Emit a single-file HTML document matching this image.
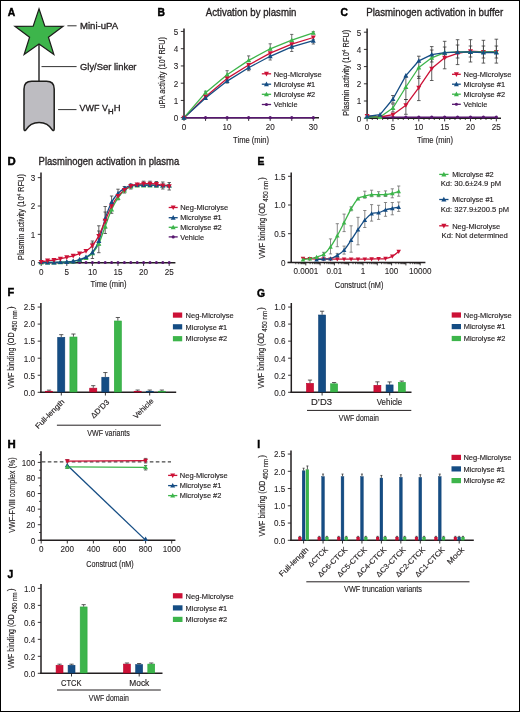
<!DOCTYPE html>
<html><head><meta charset="utf-8"><title>Figure</title>
<style>
html,body{margin:0;padding:0;background:#fff;}
svg{display:block;will-change:transform;}
text{font-family:"Liberation Sans", sans-serif;stroke:#231f20;stroke-width:0.15px;} .tk{stroke-width:0.1px;} .ti{stroke-width:0.32px;}
</style></head>
<body>
<svg width="520" height="712" viewBox="0 0 520 712" font-family='"Liberation Sans", sans-serif' fill="#231f20">
<rect x="0.5" y="0.5" width="519" height="711" fill="#fff" stroke="#000" stroke-width="1"/>
<text x="7.70" y="16.30" font-size="10.3" font-weight="bold" fill="#000" style="stroke:#000;stroke-width:0.45px">A</text>
<line x1="39.00" y1="44.00" x2="39.00" y2="81.50" stroke="#3a3a3a" stroke-width="1.6"/>
<polygon points="39.00,8.80 44.82,26.09 63.06,26.28 48.42,37.16 53.87,54.57 39.00,44.00 24.13,54.57 29.58,37.16 14.94,26.28 33.18,26.09" fill="#3db54b" stroke="#1d1d1b" stroke-width="1.2" stroke-linejoin="miter"/>
<path d="M24.0,89 Q24.0,81.3 31.7,81.3 L46.5,81.3 Q54.2,81.3 54.2,89 L54.2,128.6 Q54.2,131.3 52.5,130.1 A15.5,15.5 0 0 0 25.7,130.1 Q24.0,131.3 24.0,128.6 Z" fill="#bdbcc1" stroke="#1d1d1b" stroke-width="1.5" stroke-linejoin="round"/>
<line x1="67.40" y1="25.80" x2="76.60" y2="25.80" stroke="#333" stroke-width="1"/>
<line x1="41.50" y1="66.60" x2="76.60" y2="66.60" stroke="#333" stroke-width="1"/>
<line x1="58.10" y1="109.60" x2="76.50" y2="109.60" stroke="#333" stroke-width="1"/>
<text x="80.00" y="28.80" font-size="9.5" textLength="38.2" lengthAdjust="spacingAndGlyphs" class="ti">Mini-uPA</text>
<text x="80.00" y="70.10" font-size="9.5" textLength="56.5" lengthAdjust="spacingAndGlyphs" class="ti">Gly/Ser linker</text>
<text x="79.60" y="111.20" font-size="9.5" textLength="28.4" lengthAdjust="spacingAndGlyphs" class="ti">VWF V</text>
<text x="108.00" y="113.90" font-size="6.6" textLength="5.6" lengthAdjust="spacingAndGlyphs" class="ti">H</text>
<text x="113.80" y="111.20" font-size="9.5" class="ti">H</text>
<text x="157.60" y="16.20" font-size="10.3" font-weight="bold" fill="#000" style="stroke:#000;stroke-width:0.45px">B</text>
<text x="205.80" y="16.20" font-size="10.3" textLength="90.7" lengthAdjust="spacingAndGlyphs" class="ti">Activation by plasmin</text>
<line x1="184.00" y1="28.50" x2="184.00" y2="118.40" stroke="#231f20" stroke-width="1.5"/>
<line x1="180.80" y1="117.70" x2="184.00" y2="117.70" stroke="#231f20" stroke-width="0.9"/>
<text x="178.20" y="121.00" font-size="9.3" text-anchor="end" textLength="4.5" lengthAdjust="spacingAndGlyphs" class="tk">0</text>
<line x1="180.80" y1="100.45" x2="184.00" y2="100.45" stroke="#231f20" stroke-width="0.9"/>
<text x="178.20" y="103.75" font-size="9.3" text-anchor="end" textLength="4.5" lengthAdjust="spacingAndGlyphs" class="tk">1</text>
<line x1="180.80" y1="83.20" x2="184.00" y2="83.20" stroke="#231f20" stroke-width="0.9"/>
<text x="178.20" y="86.50" font-size="9.3" text-anchor="end" textLength="4.5" lengthAdjust="spacingAndGlyphs" class="tk">2</text>
<line x1="180.80" y1="65.95" x2="184.00" y2="65.95" stroke="#231f20" stroke-width="0.9"/>
<text x="178.20" y="69.25" font-size="9.3" text-anchor="end" textLength="4.5" lengthAdjust="spacingAndGlyphs" class="tk">3</text>
<line x1="180.80" y1="48.70" x2="184.00" y2="48.70" stroke="#231f20" stroke-width="0.9"/>
<text x="178.20" y="52.00" font-size="9.3" text-anchor="end" textLength="4.5" lengthAdjust="spacingAndGlyphs" class="tk">4</text>
<line x1="180.80" y1="31.45" x2="184.00" y2="31.45" stroke="#231f20" stroke-width="0.9"/>
<text x="178.20" y="34.75" font-size="9.3" text-anchor="end" textLength="4.5" lengthAdjust="spacingAndGlyphs" class="tk">5</text>
<line x1="183.30" y1="117.70" x2="319.00" y2="117.70" stroke="#231f20" stroke-width="1.5"/>
<line x1="184.00" y1="117.70" x2="184.00" y2="120.90" stroke="#231f20" stroke-width="0.9"/>
<text x="184.00" y="129.70" font-size="9.3" text-anchor="middle" textLength="4.5" lengthAdjust="spacingAndGlyphs" class="tk">0</text>
<line x1="205.55" y1="117.70" x2="205.55" y2="120.90" stroke="#231f20" stroke-width="0.9"/>
<line x1="227.10" y1="117.70" x2="227.10" y2="120.90" stroke="#231f20" stroke-width="0.9"/>
<text x="227.10" y="129.70" font-size="9.3" text-anchor="middle" textLength="9.01" lengthAdjust="spacingAndGlyphs" class="tk">10</text>
<line x1="248.65" y1="117.70" x2="248.65" y2="120.90" stroke="#231f20" stroke-width="0.9"/>
<line x1="270.20" y1="117.70" x2="270.20" y2="120.90" stroke="#231f20" stroke-width="0.9"/>
<text x="270.20" y="129.70" font-size="9.3" text-anchor="middle" textLength="9.01" lengthAdjust="spacingAndGlyphs" class="tk">20</text>
<line x1="291.75" y1="117.70" x2="291.75" y2="120.90" stroke="#231f20" stroke-width="0.9"/>
<line x1="313.30" y1="117.70" x2="313.30" y2="120.90" stroke="#231f20" stroke-width="0.9"/>
<text x="313.30" y="129.70" font-size="9.3" text-anchor="middle" textLength="9.01" lengthAdjust="spacingAndGlyphs" class="tk">30</text>
<text x="251.10" y="142.70" font-size="8.8" text-anchor="middle" textLength="36" lengthAdjust="spacingAndGlyphs">Time (min)</text>
<text transform="translate(165.00,72.80) rotate(-90)" x="0" y="0" text-anchor="middle" font-size="9" textLength="71.5" lengthAdjust="spacingAndGlyphs">uPA activity (10<tspan font-size="6" dy="-3">4</tspan><tspan dy="3"> RFU)</tspan></text>
<line x1="205.55" y1="91.20" x2="205.55" y2="93.70" stroke="#4a4a4a" stroke-width="0.8"/>
<line x1="203.95" y1="91.20" x2="207.15" y2="91.20" stroke="#4a4a4a" stroke-width="0.8"/>
<line x1="203.95" y1="93.70" x2="207.15" y2="93.70" stroke="#4a4a4a" stroke-width="0.8"/>
<line x1="205.55" y1="97.10" x2="205.55" y2="99.10" stroke="#4a4a4a" stroke-width="0.8"/>
<line x1="203.95" y1="97.10" x2="207.15" y2="97.10" stroke="#4a4a4a" stroke-width="0.8"/>
<line x1="203.95" y1="99.10" x2="207.15" y2="99.10" stroke="#4a4a4a" stroke-width="0.8"/>
<line x1="227.10" y1="70.70" x2="227.10" y2="75.70" stroke="#4a4a4a" stroke-width="0.8"/>
<line x1="225.50" y1="70.70" x2="228.70" y2="70.70" stroke="#4a4a4a" stroke-width="0.8"/>
<line x1="225.50" y1="75.70" x2="228.70" y2="75.70" stroke="#4a4a4a" stroke-width="0.8"/>
<line x1="227.10" y1="80.10" x2="227.10" y2="83.10" stroke="#4a4a4a" stroke-width="0.8"/>
<line x1="225.50" y1="80.10" x2="228.70" y2="80.10" stroke="#4a4a4a" stroke-width="0.8"/>
<line x1="225.50" y1="83.10" x2="228.70" y2="83.10" stroke="#4a4a4a" stroke-width="0.8"/>
<line x1="248.65" y1="55.90" x2="248.65" y2="61.40" stroke="#4a4a4a" stroke-width="0.8"/>
<line x1="247.05" y1="55.90" x2="250.25" y2="55.90" stroke="#4a4a4a" stroke-width="0.8"/>
<line x1="247.05" y1="61.40" x2="250.25" y2="61.40" stroke="#4a4a4a" stroke-width="0.8"/>
<line x1="248.65" y1="66.70" x2="248.65" y2="70.70" stroke="#4a4a4a" stroke-width="0.8"/>
<line x1="247.05" y1="66.70" x2="250.25" y2="66.70" stroke="#4a4a4a" stroke-width="0.8"/>
<line x1="247.05" y1="70.70" x2="250.25" y2="70.70" stroke="#4a4a4a" stroke-width="0.8"/>
<line x1="270.20" y1="43.80" x2="270.20" y2="49.80" stroke="#4a4a4a" stroke-width="0.8"/>
<line x1="268.60" y1="43.80" x2="271.80" y2="43.80" stroke="#4a4a4a" stroke-width="0.8"/>
<line x1="268.60" y1="49.80" x2="271.80" y2="49.80" stroke="#4a4a4a" stroke-width="0.8"/>
<line x1="270.20" y1="55.30" x2="270.20" y2="60.00" stroke="#4a4a4a" stroke-width="0.8"/>
<line x1="268.60" y1="55.30" x2="271.80" y2="55.30" stroke="#4a4a4a" stroke-width="0.8"/>
<line x1="268.60" y1="60.00" x2="271.80" y2="60.00" stroke="#4a4a4a" stroke-width="0.8"/>
<line x1="291.75" y1="34.40" x2="291.75" y2="41.20" stroke="#4a4a4a" stroke-width="0.8"/>
<line x1="290.15" y1="34.40" x2="293.35" y2="34.40" stroke="#4a4a4a" stroke-width="0.8"/>
<line x1="290.15" y1="41.20" x2="293.35" y2="41.20" stroke="#4a4a4a" stroke-width="0.8"/>
<line x1="291.75" y1="45.90" x2="291.75" y2="51.50" stroke="#4a4a4a" stroke-width="0.8"/>
<line x1="290.15" y1="45.90" x2="293.35" y2="45.90" stroke="#4a4a4a" stroke-width="0.8"/>
<line x1="290.15" y1="51.50" x2="293.35" y2="51.50" stroke="#4a4a4a" stroke-width="0.8"/>
<line x1="313.30" y1="31.70" x2="313.30" y2="33.90" stroke="#4a4a4a" stroke-width="0.8"/>
<line x1="311.70" y1="31.70" x2="314.90" y2="31.70" stroke="#4a4a4a" stroke-width="0.8"/>
<line x1="311.70" y1="33.90" x2="314.90" y2="33.90" stroke="#4a4a4a" stroke-width="0.8"/>
<line x1="313.30" y1="39.70" x2="313.30" y2="44.00" stroke="#4a4a4a" stroke-width="0.8"/>
<line x1="311.70" y1="39.70" x2="314.90" y2="39.70" stroke="#4a4a4a" stroke-width="0.8"/>
<line x1="311.70" y1="44.00" x2="314.90" y2="44.00" stroke="#4a4a4a" stroke-width="0.8"/>
<line x1="184.00" y1="117.70" x2="313.30" y2="117.70" stroke="#57176f" stroke-width="1.4"/>
<circle cx="184.00" cy="117.70" r="1.6" fill="#57176f"/>
<circle cx="205.55" cy="117.70" r="1.6" fill="#57176f"/>
<circle cx="227.10" cy="117.70" r="1.6" fill="#57176f"/>
<circle cx="248.65" cy="117.70" r="1.6" fill="#57176f"/>
<circle cx="270.20" cy="117.70" r="1.6" fill="#57176f"/>
<circle cx="291.75" cy="117.70" r="1.6" fill="#57176f"/>
<circle cx="313.30" cy="117.70" r="1.6" fill="#57176f"/>
<polyline points="184.00,117.70 205.55,96.70 227.10,78.40 248.65,65.00 270.20,53.10 291.75,44.20 313.30,37.50" fill="none" stroke="#cc1136" stroke-width="1.3" stroke-linejoin="round"/>
<polyline points="184.00,117.70 205.55,98.10 227.10,81.10 248.65,67.70 270.20,56.30 291.75,46.90 313.30,40.70" fill="none" stroke="#154d84" stroke-width="1.3" stroke-linejoin="round"/>
<polyline points="184.00,117.70 205.55,92.70 227.10,74.70 248.65,60.40 270.20,48.80 291.75,40.20 313.30,32.90" fill="none" stroke="#3db54b" stroke-width="1.3" stroke-linejoin="round"/>
<path d="M184.00,115.10 L186.47,119.65 L181.53,119.65Z" fill="#3db54b"/>
<path d="M184.00,120.30 L186.47,115.75 L181.53,115.75Z" fill="#cc1136"/>
<path d="M184.00,115.10 L186.47,119.65 L181.53,119.65Z" fill="#154d84"/>
<path d="M205.55,90.10 L208.02,94.65 L203.08,94.65Z" fill="#3db54b"/>
<path d="M205.55,99.30 L208.02,94.75 L203.08,94.75Z" fill="#cc1136"/>
<path d="M205.55,95.50 L208.02,100.05 L203.08,100.05Z" fill="#154d84"/>
<path d="M227.10,72.10 L229.57,76.65 L224.63,76.65Z" fill="#3db54b"/>
<path d="M227.10,81.00 L229.57,76.45 L224.63,76.45Z" fill="#cc1136"/>
<path d="M227.10,78.50 L229.57,83.05 L224.63,83.05Z" fill="#154d84"/>
<path d="M248.65,57.80 L251.12,62.35 L246.18,62.35Z" fill="#3db54b"/>
<path d="M248.65,67.60 L251.12,63.05 L246.18,63.05Z" fill="#cc1136"/>
<path d="M248.65,65.10 L251.12,69.65 L246.18,69.65Z" fill="#154d84"/>
<path d="M270.20,46.20 L272.67,50.75 L267.73,50.75Z" fill="#3db54b"/>
<path d="M270.20,55.70 L272.67,51.15 L267.73,51.15Z" fill="#cc1136"/>
<path d="M270.20,53.70 L272.67,58.25 L267.73,58.25Z" fill="#154d84"/>
<path d="M291.75,37.60 L294.22,42.15 L289.28,42.15Z" fill="#3db54b"/>
<path d="M291.75,46.80 L294.22,42.25 L289.28,42.25Z" fill="#cc1136"/>
<path d="M291.75,44.30 L294.22,48.85 L289.28,48.85Z" fill="#154d84"/>
<path d="M313.30,30.30 L315.77,34.85 L310.83,34.85Z" fill="#3db54b"/>
<path d="M313.30,40.10 L315.77,35.55 L310.83,35.55Z" fill="#cc1136"/>
<path d="M313.30,38.10 L315.77,42.65 L310.83,42.65Z" fill="#154d84"/>
<line x1="261.80" y1="73.80" x2="271.10" y2="73.80" stroke="#cc1136" stroke-width="1.3"/>
<path d="M266.45,76.40 L268.92,71.85 L263.98,71.85Z" fill="#cc1136"/>
<text x="273.70" y="76.50" font-size="7.9" textLength="48" lengthAdjust="spacingAndGlyphs">Neg-Microlyse</text>
<line x1="261.80" y1="84.20" x2="271.10" y2="84.20" stroke="#154d84" stroke-width="1.3"/>
<path d="M266.45,81.60 L268.92,86.15 L263.98,86.15Z" fill="#154d84"/>
<text x="273.70" y="86.90" font-size="7.9" textLength="41.5" lengthAdjust="spacingAndGlyphs">Microlyse #1</text>
<line x1="261.80" y1="94.30" x2="271.10" y2="94.30" stroke="#3db54b" stroke-width="1.3"/>
<path d="M266.45,91.70 L268.92,96.25 L263.98,96.25Z" fill="#3db54b"/>
<text x="273.70" y="97.00" font-size="7.9" textLength="41.5" lengthAdjust="spacingAndGlyphs">Microlyse #2</text>
<line x1="261.80" y1="104.50" x2="271.10" y2="104.50" stroke="#57176f" stroke-width="1.3"/>
<circle cx="266.45" cy="104.50" r="1.56" fill="#57176f"/>
<text x="273.70" y="107.20" font-size="7.9" textLength="23.8" lengthAdjust="spacingAndGlyphs">Vehicle</text>
<text x="340.40" y="16.30" font-size="10.3" font-weight="bold" fill="#000" style="stroke:#000;stroke-width:0.45px">C</text>
<text x="366.20" y="16.00" font-size="10.3" textLength="137" lengthAdjust="spacingAndGlyphs" class="ti">Plasminogen activation in buffer</text>
<line x1="367.10" y1="28.50" x2="367.10" y2="118.90" stroke="#231f20" stroke-width="1.5"/>
<line x1="363.90" y1="118.20" x2="367.10" y2="118.20" stroke="#231f20" stroke-width="0.9"/>
<text x="361.30" y="121.50" font-size="9.3" text-anchor="end" textLength="4.5" lengthAdjust="spacingAndGlyphs" class="tk">0</text>
<line x1="363.90" y1="101.00" x2="367.10" y2="101.00" stroke="#231f20" stroke-width="0.9"/>
<text x="361.30" y="104.30" font-size="9.3" text-anchor="end" textLength="4.5" lengthAdjust="spacingAndGlyphs" class="tk">1</text>
<line x1="363.90" y1="83.80" x2="367.10" y2="83.80" stroke="#231f20" stroke-width="0.9"/>
<text x="361.30" y="87.10" font-size="9.3" text-anchor="end" textLength="4.5" lengthAdjust="spacingAndGlyphs" class="tk">2</text>
<line x1="363.90" y1="66.60" x2="367.10" y2="66.60" stroke="#231f20" stroke-width="0.9"/>
<text x="361.30" y="69.90" font-size="9.3" text-anchor="end" textLength="4.5" lengthAdjust="spacingAndGlyphs" class="tk">3</text>
<line x1="363.90" y1="49.40" x2="367.10" y2="49.40" stroke="#231f20" stroke-width="0.9"/>
<text x="361.30" y="52.70" font-size="9.3" text-anchor="end" textLength="4.5" lengthAdjust="spacingAndGlyphs" class="tk">4</text>
<line x1="363.90" y1="32.20" x2="367.10" y2="32.20" stroke="#231f20" stroke-width="0.9"/>
<text x="361.30" y="35.50" font-size="9.3" text-anchor="end" textLength="4.5" lengthAdjust="spacingAndGlyphs" class="tk">5</text>
<line x1="366.40" y1="118.20" x2="501.00" y2="118.20" stroke="#231f20" stroke-width="1.5"/>
<line x1="367.10" y1="118.20" x2="367.10" y2="121.40" stroke="#231f20" stroke-width="0.9"/>
<text x="367.10" y="130.20" font-size="9.3" text-anchor="middle" textLength="4.5" lengthAdjust="spacingAndGlyphs" class="tk">0</text>
<line x1="392.95" y1="118.20" x2="392.95" y2="121.40" stroke="#231f20" stroke-width="0.9"/>
<text x="392.95" y="130.20" font-size="9.3" text-anchor="middle" textLength="4.5" lengthAdjust="spacingAndGlyphs" class="tk">5</text>
<line x1="418.80" y1="118.20" x2="418.80" y2="121.40" stroke="#231f20" stroke-width="0.9"/>
<text x="418.80" y="130.20" font-size="9.3" text-anchor="middle" textLength="9.01" lengthAdjust="spacingAndGlyphs" class="tk">10</text>
<line x1="444.65" y1="118.20" x2="444.65" y2="121.40" stroke="#231f20" stroke-width="0.9"/>
<text x="444.65" y="130.20" font-size="9.3" text-anchor="middle" textLength="9.01" lengthAdjust="spacingAndGlyphs" class="tk">15</text>
<line x1="470.50" y1="118.20" x2="470.50" y2="121.40" stroke="#231f20" stroke-width="0.9"/>
<text x="470.50" y="130.20" font-size="9.3" text-anchor="middle" textLength="9.01" lengthAdjust="spacingAndGlyphs" class="tk">20</text>
<line x1="496.35" y1="118.20" x2="496.35" y2="121.40" stroke="#231f20" stroke-width="0.9"/>
<text x="496.35" y="130.20" font-size="9.3" text-anchor="middle" textLength="9.01" lengthAdjust="spacingAndGlyphs" class="tk">25</text>
<line x1="372.27" y1="118.20" x2="372.27" y2="120.00" stroke="#231f20" stroke-width="0.8"/>
<line x1="377.44" y1="118.20" x2="377.44" y2="120.00" stroke="#231f20" stroke-width="0.8"/>
<line x1="382.61" y1="118.20" x2="382.61" y2="120.00" stroke="#231f20" stroke-width="0.8"/>
<line x1="387.78" y1="118.20" x2="387.78" y2="120.00" stroke="#231f20" stroke-width="0.8"/>
<line x1="398.12" y1="118.20" x2="398.12" y2="120.00" stroke="#231f20" stroke-width="0.8"/>
<line x1="403.29" y1="118.20" x2="403.29" y2="120.00" stroke="#231f20" stroke-width="0.8"/>
<line x1="408.46" y1="118.20" x2="408.46" y2="120.00" stroke="#231f20" stroke-width="0.8"/>
<line x1="413.63" y1="118.20" x2="413.63" y2="120.00" stroke="#231f20" stroke-width="0.8"/>
<line x1="423.97" y1="118.20" x2="423.97" y2="120.00" stroke="#231f20" stroke-width="0.8"/>
<line x1="429.14" y1="118.20" x2="429.14" y2="120.00" stroke="#231f20" stroke-width="0.8"/>
<line x1="434.31" y1="118.20" x2="434.31" y2="120.00" stroke="#231f20" stroke-width="0.8"/>
<line x1="439.48" y1="118.20" x2="439.48" y2="120.00" stroke="#231f20" stroke-width="0.8"/>
<line x1="449.82" y1="118.20" x2="449.82" y2="120.00" stroke="#231f20" stroke-width="0.8"/>
<line x1="454.99" y1="118.20" x2="454.99" y2="120.00" stroke="#231f20" stroke-width="0.8"/>
<line x1="460.16" y1="118.20" x2="460.16" y2="120.00" stroke="#231f20" stroke-width="0.8"/>
<line x1="465.33" y1="118.20" x2="465.33" y2="120.00" stroke="#231f20" stroke-width="0.8"/>
<line x1="475.67" y1="118.20" x2="475.67" y2="120.00" stroke="#231f20" stroke-width="0.8"/>
<line x1="480.84" y1="118.20" x2="480.84" y2="120.00" stroke="#231f20" stroke-width="0.8"/>
<line x1="486.01" y1="118.20" x2="486.01" y2="120.00" stroke="#231f20" stroke-width="0.8"/>
<line x1="491.18" y1="118.20" x2="491.18" y2="120.00" stroke="#231f20" stroke-width="0.8"/>
<text x="435.00" y="143.20" font-size="8.8" text-anchor="middle" textLength="36" lengthAdjust="spacingAndGlyphs">Time (min)</text>
<text transform="translate(348.70,72.80) rotate(-90)" x="0" y="0" text-anchor="middle" font-size="9" textLength="86" lengthAdjust="spacingAndGlyphs">Plasmin activity (10<tspan font-size="6" dy="-3">4</tspan><tspan dy="3"> RFU)</tspan></text>
<line x1="392.95" y1="95.50" x2="392.95" y2="103.00" stroke="#3a3a3a" stroke-width="0.8"/>
<line x1="391.15" y1="95.50" x2="394.75" y2="95.50" stroke="#3a3a3a" stroke-width="0.8"/>
<line x1="391.15" y1="103.00" x2="394.75" y2="103.00" stroke="#3a3a3a" stroke-width="0.8"/>
<line x1="392.95" y1="104.00" x2="392.95" y2="112.00" stroke="#3a3a3a" stroke-width="0.8"/>
<line x1="391.15" y1="104.00" x2="394.75" y2="104.00" stroke="#3a3a3a" stroke-width="0.8"/>
<line x1="391.15" y1="112.00" x2="394.75" y2="112.00" stroke="#3a3a3a" stroke-width="0.8"/>
<line x1="405.88" y1="77.30" x2="405.88" y2="99.50" stroke="#3a3a3a" stroke-width="0.8"/>
<line x1="404.07" y1="77.30" x2="407.68" y2="77.30" stroke="#3a3a3a" stroke-width="0.8"/>
<line x1="404.07" y1="99.50" x2="407.68" y2="99.50" stroke="#3a3a3a" stroke-width="0.8"/>
<line x1="405.88" y1="99.50" x2="405.88" y2="114.30" stroke="#3a3a3a" stroke-width="0.8"/>
<line x1="404.07" y1="99.50" x2="407.68" y2="99.50" stroke="#3a3a3a" stroke-width="0.8"/>
<line x1="404.07" y1="114.30" x2="407.68" y2="114.30" stroke="#3a3a3a" stroke-width="0.8"/>
<line x1="418.80" y1="56.20" x2="418.80" y2="78.40" stroke="#3a3a3a" stroke-width="0.8"/>
<line x1="417.00" y1="56.20" x2="420.60" y2="56.20" stroke="#3a3a3a" stroke-width="0.8"/>
<line x1="417.00" y1="78.40" x2="420.60" y2="78.40" stroke="#3a3a3a" stroke-width="0.8"/>
<line x1="418.80" y1="76.30" x2="418.80" y2="100.60" stroke="#3a3a3a" stroke-width="0.8"/>
<line x1="417.00" y1="76.30" x2="420.60" y2="76.30" stroke="#3a3a3a" stroke-width="0.8"/>
<line x1="417.00" y1="100.60" x2="420.60" y2="100.60" stroke="#3a3a3a" stroke-width="0.8"/>
<line x1="431.73" y1="46.60" x2="431.73" y2="80.50" stroke="#3a3a3a" stroke-width="0.8"/>
<line x1="429.93" y1="46.60" x2="433.53" y2="46.60" stroke="#3a3a3a" stroke-width="0.8"/>
<line x1="429.93" y1="80.50" x2="433.53" y2="80.50" stroke="#3a3a3a" stroke-width="0.8"/>
<line x1="431.73" y1="50.00" x2="431.73" y2="62.00" stroke="#3a3a3a" stroke-width="0.8"/>
<line x1="429.93" y1="50.00" x2="433.53" y2="50.00" stroke="#3a3a3a" stroke-width="0.8"/>
<line x1="429.93" y1="62.00" x2="433.53" y2="62.00" stroke="#3a3a3a" stroke-width="0.8"/>
<line x1="444.65" y1="41.30" x2="444.65" y2="68.80" stroke="#3a3a3a" stroke-width="0.8"/>
<line x1="442.85" y1="41.30" x2="446.45" y2="41.30" stroke="#3a3a3a" stroke-width="0.8"/>
<line x1="442.85" y1="68.80" x2="446.45" y2="68.80" stroke="#3a3a3a" stroke-width="0.8"/>
<line x1="444.65" y1="47.00" x2="444.65" y2="58.00" stroke="#3a3a3a" stroke-width="0.8"/>
<line x1="442.85" y1="47.00" x2="446.45" y2="47.00" stroke="#3a3a3a" stroke-width="0.8"/>
<line x1="442.85" y1="58.00" x2="446.45" y2="58.00" stroke="#3a3a3a" stroke-width="0.8"/>
<line x1="457.58" y1="39.70" x2="457.58" y2="64.60" stroke="#3a3a3a" stroke-width="0.8"/>
<line x1="455.78" y1="39.70" x2="459.38" y2="39.70" stroke="#3a3a3a" stroke-width="0.8"/>
<line x1="455.78" y1="64.60" x2="459.38" y2="64.60" stroke="#3a3a3a" stroke-width="0.8"/>
<line x1="457.58" y1="45.00" x2="457.58" y2="58.00" stroke="#3a3a3a" stroke-width="0.8"/>
<line x1="455.78" y1="45.00" x2="459.38" y2="45.00" stroke="#3a3a3a" stroke-width="0.8"/>
<line x1="455.78" y1="58.00" x2="459.38" y2="58.00" stroke="#3a3a3a" stroke-width="0.8"/>
<line x1="470.50" y1="39.70" x2="470.50" y2="62.00" stroke="#3a3a3a" stroke-width="0.8"/>
<line x1="468.70" y1="39.70" x2="472.30" y2="39.70" stroke="#3a3a3a" stroke-width="0.8"/>
<line x1="468.70" y1="62.00" x2="472.30" y2="62.00" stroke="#3a3a3a" stroke-width="0.8"/>
<line x1="470.50" y1="46.00" x2="470.50" y2="57.00" stroke="#3a3a3a" stroke-width="0.8"/>
<line x1="468.70" y1="46.00" x2="472.30" y2="46.00" stroke="#3a3a3a" stroke-width="0.8"/>
<line x1="468.70" y1="57.00" x2="472.30" y2="57.00" stroke="#3a3a3a" stroke-width="0.8"/>
<line x1="483.43" y1="40.30" x2="483.43" y2="63.10" stroke="#3a3a3a" stroke-width="0.8"/>
<line x1="481.62" y1="40.30" x2="485.23" y2="40.30" stroke="#3a3a3a" stroke-width="0.8"/>
<line x1="481.62" y1="63.10" x2="485.23" y2="63.10" stroke="#3a3a3a" stroke-width="0.8"/>
<line x1="483.43" y1="46.00" x2="483.43" y2="58.00" stroke="#3a3a3a" stroke-width="0.8"/>
<line x1="481.62" y1="46.00" x2="485.23" y2="46.00" stroke="#3a3a3a" stroke-width="0.8"/>
<line x1="481.62" y1="58.00" x2="485.23" y2="58.00" stroke="#3a3a3a" stroke-width="0.8"/>
<line x1="496.35" y1="39.20" x2="496.35" y2="63.10" stroke="#3a3a3a" stroke-width="0.8"/>
<line x1="494.55" y1="39.20" x2="498.15" y2="39.20" stroke="#3a3a3a" stroke-width="0.8"/>
<line x1="494.55" y1="63.10" x2="498.15" y2="63.10" stroke="#3a3a3a" stroke-width="0.8"/>
<line x1="496.35" y1="46.00" x2="496.35" y2="58.00" stroke="#3a3a3a" stroke-width="0.8"/>
<line x1="494.55" y1="46.00" x2="498.15" y2="46.00" stroke="#3a3a3a" stroke-width="0.8"/>
<line x1="494.55" y1="58.00" x2="498.15" y2="58.00" stroke="#3a3a3a" stroke-width="0.8"/>
<line x1="367.10" y1="117.20" x2="496.35" y2="117.20" stroke="#57176f" stroke-width="1.4"/>
<circle cx="367.10" cy="117.20" r="1.6" fill="#57176f"/>
<circle cx="380.03" cy="117.20" r="1.6" fill="#57176f"/>
<circle cx="392.95" cy="117.20" r="1.6" fill="#57176f"/>
<circle cx="405.88" cy="117.20" r="1.6" fill="#57176f"/>
<circle cx="418.80" cy="117.20" r="1.6" fill="#57176f"/>
<circle cx="431.73" cy="117.20" r="1.6" fill="#57176f"/>
<circle cx="444.65" cy="117.20" r="1.6" fill="#57176f"/>
<circle cx="457.58" cy="117.20" r="1.6" fill="#57176f"/>
<circle cx="470.50" cy="117.20" r="1.6" fill="#57176f"/>
<circle cx="483.43" cy="117.20" r="1.6" fill="#57176f"/>
<circle cx="496.35" cy="117.20" r="1.6" fill="#57176f"/>
<polyline points="367.10,116.00 380.03,117.00 392.95,114.70 405.88,105.20 418.80,87.70 431.73,68.60 444.65,57.80 457.58,53.30 470.50,51.10 483.43,52.00 496.35,52.00" fill="none" stroke="#cc1136" stroke-width="1.3" stroke-linejoin="round"/>
<polyline points="367.10,117.00 380.03,117.00 392.95,108.00 405.88,87.00 418.80,67.50 431.73,57.80 444.65,52.70 457.58,52.00 470.50,52.00 483.43,52.00 496.35,52.00" fill="none" stroke="#3db54b" stroke-width="1.3" stroke-linejoin="round"/>
<polyline points="367.10,116.50 380.03,114.70 392.95,99.00 405.88,75.60 418.80,60.80 431.73,54.60 444.65,52.70 457.58,52.20 470.50,52.00 483.43,52.50 496.35,52.50" fill="none" stroke="#154d84" stroke-width="1.3" stroke-linejoin="round"/>
<path d="M367.10,118.60 L369.57,114.05 L364.63,114.05Z" fill="#cc1136"/>
<path d="M367.10,114.40 L369.57,118.95 L364.63,118.95Z" fill="#3db54b"/>
<path d="M367.10,113.90 L369.57,118.45 L364.63,118.45Z" fill="#154d84"/>
<path d="M380.03,119.60 L382.50,115.05 L377.56,115.05Z" fill="#cc1136"/>
<path d="M380.03,114.40 L382.50,118.95 L377.56,118.95Z" fill="#3db54b"/>
<path d="M380.03,112.10 L382.50,116.65 L377.56,116.65Z" fill="#154d84"/>
<path d="M392.95,117.30 L395.42,112.75 L390.48,112.75Z" fill="#cc1136"/>
<path d="M392.95,105.40 L395.42,109.95 L390.48,109.95Z" fill="#3db54b"/>
<path d="M392.95,96.40 L395.42,100.95 L390.48,100.95Z" fill="#154d84"/>
<path d="M405.88,107.80 L408.35,103.25 L403.40,103.25Z" fill="#cc1136"/>
<path d="M405.88,84.40 L408.35,88.95 L403.40,88.95Z" fill="#3db54b"/>
<path d="M405.88,73.00 L408.35,77.55 L403.40,77.55Z" fill="#154d84"/>
<path d="M418.80,90.30 L421.27,85.75 L416.33,85.75Z" fill="#cc1136"/>
<path d="M418.80,64.90 L421.27,69.45 L416.33,69.45Z" fill="#3db54b"/>
<path d="M418.80,58.20 L421.27,62.75 L416.33,62.75Z" fill="#154d84"/>
<path d="M431.73,71.20 L434.20,66.65 L429.25,66.65Z" fill="#cc1136"/>
<path d="M431.73,55.20 L434.20,59.75 L429.25,59.75Z" fill="#3db54b"/>
<path d="M431.73,52.00 L434.20,56.55 L429.25,56.55Z" fill="#154d84"/>
<path d="M444.65,60.40 L447.12,55.85 L442.18,55.85Z" fill="#cc1136"/>
<path d="M444.65,50.10 L447.12,54.65 L442.18,54.65Z" fill="#3db54b"/>
<path d="M444.65,50.10 L447.12,54.65 L442.18,54.65Z" fill="#154d84"/>
<path d="M457.58,55.90 L460.05,51.35 L455.11,51.35Z" fill="#cc1136"/>
<path d="M457.58,49.40 L460.05,53.95 L455.11,53.95Z" fill="#3db54b"/>
<path d="M457.58,49.60 L460.05,54.15 L455.11,54.15Z" fill="#154d84"/>
<path d="M470.50,53.70 L472.97,49.15 L468.03,49.15Z" fill="#cc1136"/>
<path d="M470.50,49.40 L472.97,53.95 L468.03,53.95Z" fill="#3db54b"/>
<path d="M470.50,49.40 L472.97,53.95 L468.03,53.95Z" fill="#154d84"/>
<path d="M483.43,54.60 L485.90,50.05 L480.95,50.05Z" fill="#cc1136"/>
<path d="M483.43,49.40 L485.90,53.95 L480.95,53.95Z" fill="#3db54b"/>
<path d="M483.43,49.90 L485.90,54.45 L480.95,54.45Z" fill="#154d84"/>
<path d="M496.35,54.60 L498.82,50.05 L493.88,50.05Z" fill="#cc1136"/>
<path d="M496.35,49.40 L498.82,53.95 L493.88,53.95Z" fill="#3db54b"/>
<path d="M496.35,49.90 L498.82,54.45 L493.88,54.45Z" fill="#154d84"/>
<line x1="452.00" y1="74.30" x2="460.80" y2="74.30" stroke="#cc1136" stroke-width="1.3"/>
<path d="M456.40,76.90 L458.87,72.35 L453.93,72.35Z" fill="#cc1136"/>
<text x="463.50" y="77.00" font-size="7.9" textLength="48" lengthAdjust="spacingAndGlyphs">Neg-Microlyse</text>
<line x1="452.00" y1="84.20" x2="460.80" y2="84.20" stroke="#154d84" stroke-width="1.3"/>
<path d="M456.40,81.60 L458.87,86.15 L453.93,86.15Z" fill="#154d84"/>
<text x="463.50" y="86.90" font-size="7.9" textLength="41.5" lengthAdjust="spacingAndGlyphs">Microlyse #1</text>
<line x1="452.00" y1="94.20" x2="460.80" y2="94.20" stroke="#3db54b" stroke-width="1.3"/>
<path d="M456.40,91.60 L458.87,96.15 L453.93,96.15Z" fill="#3db54b"/>
<text x="463.50" y="96.90" font-size="7.9" textLength="41.5" lengthAdjust="spacingAndGlyphs">Microlyse #2</text>
<line x1="452.00" y1="104.30" x2="460.80" y2="104.30" stroke="#57176f" stroke-width="1.3"/>
<circle cx="456.40" cy="104.30" r="1.56" fill="#57176f"/>
<text x="463.50" y="107.00" font-size="7.9" textLength="23.8" lengthAdjust="spacingAndGlyphs">Vehicle</text>
<text x="7.50" y="164.80" font-size="10.3" font-weight="bold" fill="#000" style="stroke:#000;stroke-width:0.45px" textLength="8.2" lengthAdjust="spacingAndGlyphs">D</text>
<text x="38.60" y="165.40" font-size="10.3" textLength="140.6" lengthAdjust="spacingAndGlyphs" class="ti">Plasminogen activation in plasma</text>
<line x1="41.00" y1="172.40" x2="41.00" y2="263.40" stroke="#231f20" stroke-width="1.5"/>
<line x1="37.80" y1="262.70" x2="41.00" y2="262.70" stroke="#231f20" stroke-width="0.9"/>
<text x="35.20" y="266.00" font-size="9.3" text-anchor="end" textLength="4.5" lengthAdjust="spacingAndGlyphs" class="tk">0</text>
<line x1="37.80" y1="234.35" x2="41.00" y2="234.35" stroke="#231f20" stroke-width="0.9"/>
<text x="35.20" y="237.65" font-size="9.3" text-anchor="end" textLength="4.5" lengthAdjust="spacingAndGlyphs" class="tk">1</text>
<line x1="37.80" y1="206.00" x2="41.00" y2="206.00" stroke="#231f20" stroke-width="0.9"/>
<text x="35.20" y="209.30" font-size="9.3" text-anchor="end" textLength="4.5" lengthAdjust="spacingAndGlyphs" class="tk">2</text>
<line x1="37.80" y1="177.65" x2="41.00" y2="177.65" stroke="#231f20" stroke-width="0.9"/>
<text x="35.20" y="180.95" font-size="9.3" text-anchor="end" textLength="4.5" lengthAdjust="spacingAndGlyphs" class="tk">3</text>
<line x1="40.30" y1="262.70" x2="175.40" y2="262.70" stroke="#231f20" stroke-width="1.5"/>
<line x1="41.20" y1="262.70" x2="41.20" y2="265.90" stroke="#231f20" stroke-width="0.9"/>
<text x="41.20" y="274.70" font-size="9.3" text-anchor="middle" textLength="4.5" lengthAdjust="spacingAndGlyphs" class="tk">0</text>
<line x1="66.80" y1="262.70" x2="66.80" y2="265.90" stroke="#231f20" stroke-width="0.9"/>
<text x="66.80" y="274.70" font-size="9.3" text-anchor="middle" textLength="4.5" lengthAdjust="spacingAndGlyphs" class="tk">5</text>
<line x1="92.40" y1="262.70" x2="92.40" y2="265.90" stroke="#231f20" stroke-width="0.9"/>
<text x="92.40" y="274.70" font-size="9.3" text-anchor="middle" textLength="9.01" lengthAdjust="spacingAndGlyphs" class="tk">10</text>
<line x1="118.00" y1="262.70" x2="118.00" y2="265.90" stroke="#231f20" stroke-width="0.9"/>
<text x="118.00" y="274.70" font-size="9.3" text-anchor="middle" textLength="9.01" lengthAdjust="spacingAndGlyphs" class="tk">15</text>
<line x1="143.60" y1="262.70" x2="143.60" y2="265.90" stroke="#231f20" stroke-width="0.9"/>
<text x="143.60" y="274.70" font-size="9.3" text-anchor="middle" textLength="9.01" lengthAdjust="spacingAndGlyphs" class="tk">20</text>
<line x1="169.20" y1="262.70" x2="169.20" y2="265.90" stroke="#231f20" stroke-width="0.9"/>
<text x="169.20" y="274.70" font-size="9.3" text-anchor="middle" textLength="9.01" lengthAdjust="spacingAndGlyphs" class="tk">25</text>
<text x="108.60" y="287.30" font-size="8.8" text-anchor="middle" textLength="36" lengthAdjust="spacingAndGlyphs">Time (min)</text>
<text transform="translate(23.70,217.00) rotate(-90)" x="0" y="0" text-anchor="middle" font-size="9" textLength="86" lengthAdjust="spacingAndGlyphs">Plasmin activity (10<tspan font-size="6" dy="-3">4</tspan><tspan dy="3"> RFU)</tspan></text>
<line x1="92.40" y1="243.00" x2="92.40" y2="258.50" stroke="#3a3a3a" stroke-width="0.8"/>
<line x1="90.70" y1="243.00" x2="94.10" y2="243.00" stroke="#3a3a3a" stroke-width="0.8"/>
<line x1="90.70" y1="258.50" x2="94.10" y2="258.50" stroke="#3a3a3a" stroke-width="0.8"/>
<line x1="92.40" y1="241.00" x2="92.40" y2="247.00" stroke="#3a3a3a" stroke-width="0.8"/>
<line x1="90.70" y1="241.00" x2="94.10" y2="241.00" stroke="#3a3a3a" stroke-width="0.8"/>
<line x1="90.70" y1="247.00" x2="94.10" y2="247.00" stroke="#3a3a3a" stroke-width="0.8"/>
<line x1="98.80" y1="225.80" x2="98.80" y2="252.70" stroke="#3a3a3a" stroke-width="0.8"/>
<line x1="97.10" y1="225.80" x2="100.50" y2="225.80" stroke="#3a3a3a" stroke-width="0.8"/>
<line x1="97.10" y1="252.70" x2="100.50" y2="252.70" stroke="#3a3a3a" stroke-width="0.8"/>
<line x1="98.80" y1="231.00" x2="98.80" y2="245.00" stroke="#3a3a3a" stroke-width="0.8"/>
<line x1="97.10" y1="231.00" x2="100.50" y2="231.00" stroke="#3a3a3a" stroke-width="0.8"/>
<line x1="97.10" y1="245.00" x2="100.50" y2="245.00" stroke="#3a3a3a" stroke-width="0.8"/>
<line x1="105.20" y1="206.50" x2="105.20" y2="233.50" stroke="#3a3a3a" stroke-width="0.8"/>
<line x1="103.50" y1="206.50" x2="106.90" y2="206.50" stroke="#3a3a3a" stroke-width="0.8"/>
<line x1="103.50" y1="233.50" x2="106.90" y2="233.50" stroke="#3a3a3a" stroke-width="0.8"/>
<line x1="105.20" y1="212.00" x2="105.20" y2="228.00" stroke="#3a3a3a" stroke-width="0.8"/>
<line x1="103.50" y1="212.00" x2="106.90" y2="212.00" stroke="#3a3a3a" stroke-width="0.8"/>
<line x1="103.50" y1="228.00" x2="106.90" y2="228.00" stroke="#3a3a3a" stroke-width="0.8"/>
<line x1="111.60" y1="196.00" x2="111.60" y2="213.30" stroke="#3a3a3a" stroke-width="0.8"/>
<line x1="109.90" y1="196.00" x2="113.30" y2="196.00" stroke="#3a3a3a" stroke-width="0.8"/>
<line x1="109.90" y1="213.30" x2="113.30" y2="213.30" stroke="#3a3a3a" stroke-width="0.8"/>
<line x1="118.00" y1="189.20" x2="118.00" y2="199.80" stroke="#3a3a3a" stroke-width="0.8"/>
<line x1="116.30" y1="189.20" x2="119.70" y2="189.20" stroke="#3a3a3a" stroke-width="0.8"/>
<line x1="116.30" y1="199.80" x2="119.70" y2="199.80" stroke="#3a3a3a" stroke-width="0.8"/>
<line x1="124.40" y1="186.50" x2="124.40" y2="193.00" stroke="#3a3a3a" stroke-width="0.8"/>
<line x1="122.70" y1="186.50" x2="126.10" y2="186.50" stroke="#3a3a3a" stroke-width="0.8"/>
<line x1="122.70" y1="193.00" x2="126.10" y2="193.00" stroke="#3a3a3a" stroke-width="0.8"/>
<line x1="130.80" y1="184.00" x2="130.80" y2="189.00" stroke="#3a3a3a" stroke-width="0.8"/>
<line x1="129.10" y1="184.00" x2="132.50" y2="184.00" stroke="#3a3a3a" stroke-width="0.8"/>
<line x1="129.10" y1="189.00" x2="132.50" y2="189.00" stroke="#3a3a3a" stroke-width="0.8"/>
<line x1="143.60" y1="181.20" x2="143.60" y2="186.50" stroke="#3a3a3a" stroke-width="0.8"/>
<line x1="141.90" y1="181.20" x2="145.30" y2="181.20" stroke="#3a3a3a" stroke-width="0.8"/>
<line x1="141.90" y1="186.50" x2="145.30" y2="186.50" stroke="#3a3a3a" stroke-width="0.8"/>
<line x1="150.00" y1="181.20" x2="150.00" y2="186.50" stroke="#3a3a3a" stroke-width="0.8"/>
<line x1="148.30" y1="181.20" x2="151.70" y2="181.20" stroke="#3a3a3a" stroke-width="0.8"/>
<line x1="148.30" y1="186.50" x2="151.70" y2="186.50" stroke="#3a3a3a" stroke-width="0.8"/>
<line x1="156.40" y1="181.50" x2="156.40" y2="187.00" stroke="#3a3a3a" stroke-width="0.8"/>
<line x1="154.70" y1="181.50" x2="158.10" y2="181.50" stroke="#3a3a3a" stroke-width="0.8"/>
<line x1="154.70" y1="187.00" x2="158.10" y2="187.00" stroke="#3a3a3a" stroke-width="0.8"/>
<line x1="162.80" y1="182.00" x2="162.80" y2="189.00" stroke="#3a3a3a" stroke-width="0.8"/>
<line x1="161.10" y1="182.00" x2="164.50" y2="182.00" stroke="#3a3a3a" stroke-width="0.8"/>
<line x1="161.10" y1="189.00" x2="164.50" y2="189.00" stroke="#3a3a3a" stroke-width="0.8"/>
<line x1="169.20" y1="182.50" x2="169.20" y2="190.00" stroke="#3a3a3a" stroke-width="0.8"/>
<line x1="167.50" y1="182.50" x2="170.90" y2="182.50" stroke="#3a3a3a" stroke-width="0.8"/>
<line x1="167.50" y1="190.00" x2="170.90" y2="190.00" stroke="#3a3a3a" stroke-width="0.8"/>
<circle cx="41.20" cy="262.40" r="1.5" fill="#57176f"/>
<circle cx="47.60" cy="262.40" r="1.5" fill="#57176f"/>
<circle cx="54.00" cy="262.40" r="1.5" fill="#57176f"/>
<circle cx="60.40" cy="262.40" r="1.5" fill="#57176f"/>
<circle cx="66.80" cy="262.40" r="1.5" fill="#57176f"/>
<circle cx="73.20" cy="262.40" r="1.5" fill="#57176f"/>
<circle cx="79.60" cy="262.40" r="1.5" fill="#57176f"/>
<circle cx="86.00" cy="262.40" r="1.5" fill="#57176f"/>
<circle cx="92.40" cy="262.40" r="1.5" fill="#57176f"/>
<circle cx="98.80" cy="262.40" r="1.5" fill="#57176f"/>
<circle cx="105.20" cy="262.40" r="1.5" fill="#57176f"/>
<circle cx="111.60" cy="262.40" r="1.5" fill="#57176f"/>
<circle cx="118.00" cy="262.40" r="1.5" fill="#57176f"/>
<circle cx="124.40" cy="262.40" r="1.5" fill="#57176f"/>
<circle cx="130.80" cy="262.40" r="1.5" fill="#57176f"/>
<circle cx="137.20" cy="262.40" r="1.5" fill="#57176f"/>
<circle cx="143.60" cy="262.40" r="1.5" fill="#57176f"/>
<circle cx="150.00" cy="262.40" r="1.5" fill="#57176f"/>
<circle cx="156.40" cy="262.40" r="1.5" fill="#57176f"/>
<circle cx="162.80" cy="262.40" r="1.5" fill="#57176f"/>
<circle cx="169.20" cy="262.40" r="1.5" fill="#57176f"/>
<path d="M41.20,262.40 C42.27,262.40 45.47,262.40 47.60,262.40 C49.73,262.40 51.87,262.42 54.00,262.40 C56.13,262.38 58.27,262.35 60.40,262.30 C62.53,262.25 64.67,262.22 66.80,262.10 C68.93,261.98 71.07,261.95 73.20,261.60 C75.33,261.25 77.47,260.60 79.60,260.00 C81.73,259.40 83.87,259.13 86.00,258.00 C88.13,256.87 90.27,255.58 92.40,253.20 C94.53,250.82 96.67,248.17 98.80,243.70 C100.93,239.23 103.07,232.08 105.20,226.40 C107.33,220.72 109.47,214.35 111.60,209.60 C113.73,204.85 115.87,201.07 118.00,197.90 C120.13,194.73 122.27,192.48 124.40,190.60 C126.53,188.72 128.67,187.43 130.80,186.60 C132.93,185.77 135.07,185.80 137.20,185.60 C139.33,185.40 141.47,185.43 143.60,185.40 C145.73,185.37 147.87,185.40 150.00,185.40 C152.13,185.40 154.27,185.40 156.40,185.40 C158.53,185.40 160.67,185.40 162.80,185.40 C164.93,185.40 168.13,185.40 169.20,185.40" fill="none" stroke="#3db54b" stroke-width="1.3"/>
<path d="M41.20,262.00 C42.27,262.07 45.47,262.33 47.60,262.40 C49.73,262.47 51.87,262.45 54.00,262.40 C56.13,262.35 58.27,262.18 60.40,262.10 C62.53,262.02 64.67,262.05 66.80,261.90 C68.93,261.75 71.07,261.58 73.20,261.20 C75.33,260.82 77.47,260.28 79.60,259.60 C81.73,258.92 83.87,258.30 86.00,257.10 C88.13,255.90 90.27,255.07 92.40,252.40 C94.53,249.73 96.67,246.73 98.80,241.10 C100.93,235.47 103.07,225.08 105.20,218.60 C107.33,212.12 109.47,206.38 111.60,202.20 C113.73,198.02 115.87,195.80 118.00,193.50 C120.13,191.20 122.27,189.75 124.40,188.40 C126.53,187.05 128.67,185.97 130.80,185.40 C132.93,184.83 135.07,185.07 137.20,185.00 C139.33,184.93 141.47,185.00 143.60,185.00 C145.73,185.00 147.87,184.97 150.00,185.00 C152.13,185.03 154.27,185.13 156.40,185.20 C158.53,185.27 160.67,185.33 162.80,185.40 C164.93,185.47 168.13,185.57 169.20,185.60" fill="none" stroke="#154d84" stroke-width="1.3"/>
<path d="M41.20,261.90 C42.27,261.68 45.47,260.92 47.60,260.60 C49.73,260.28 51.87,260.32 54.00,260.00 C56.13,259.68 58.27,259.15 60.40,258.70 C62.53,258.25 64.67,257.78 66.80,257.30 C68.93,256.82 71.07,256.43 73.20,255.80 C75.33,255.17 77.47,254.30 79.60,253.50 C81.73,252.70 83.87,252.32 86.00,251.00 C88.13,249.68 90.27,248.12 92.40,245.60 C94.53,243.08 96.67,240.05 98.80,235.90 C100.93,231.75 103.07,225.65 105.20,220.70 C107.33,215.75 109.47,210.30 111.60,206.20 C113.73,202.10 115.87,198.78 118.00,196.10 C120.13,193.42 122.27,191.77 124.40,190.10 C126.53,188.43 128.67,187.03 130.80,186.10 C132.93,185.17 135.07,184.90 137.20,184.50 C139.33,184.10 141.47,183.83 143.60,183.70 C145.73,183.57 147.87,183.65 150.00,183.70 C152.13,183.75 154.27,183.72 156.40,184.00 C158.53,184.28 160.67,185.02 162.80,185.40 C164.93,185.78 168.13,186.15 169.20,186.30" fill="none" stroke="#cc1136" stroke-width="1.3"/>
<path d="M41.20,259.70 L43.77,264.42 L38.64,264.42Z" fill="#3db54b"/>
<path d="M41.20,259.30 L43.77,264.02 L38.64,264.02Z" fill="#154d84"/>
<path d="M41.20,264.60 L43.77,259.88 L38.64,259.88Z" fill="#cc1136"/>
<path d="M47.60,259.70 L50.16,264.42 L45.04,264.42Z" fill="#3db54b"/>
<path d="M47.60,259.70 L50.16,264.42 L45.04,264.42Z" fill="#154d84"/>
<path d="M47.60,263.30 L50.16,258.58 L45.04,258.58Z" fill="#cc1136"/>
<path d="M54.00,259.70 L56.56,264.42 L51.44,264.42Z" fill="#3db54b"/>
<path d="M54.00,259.70 L56.56,264.42 L51.44,264.42Z" fill="#154d84"/>
<path d="M54.00,262.70 L56.56,257.98 L51.44,257.98Z" fill="#cc1136"/>
<path d="M60.40,259.60 L62.97,264.32 L57.84,264.32Z" fill="#3db54b"/>
<path d="M60.40,259.40 L62.97,264.12 L57.84,264.12Z" fill="#154d84"/>
<path d="M60.40,261.40 L62.97,256.68 L57.84,256.68Z" fill="#cc1136"/>
<path d="M66.80,259.40 L69.37,264.12 L64.24,264.12Z" fill="#3db54b"/>
<path d="M66.80,259.20 L69.37,263.92 L64.24,263.92Z" fill="#154d84"/>
<path d="M66.80,260.00 L69.37,255.28 L64.24,255.28Z" fill="#cc1136"/>
<path d="M73.20,258.90 L75.77,263.62 L70.64,263.62Z" fill="#3db54b"/>
<path d="M73.20,258.50 L75.77,263.22 L70.64,263.22Z" fill="#154d84"/>
<path d="M73.20,258.50 L75.77,253.78 L70.64,253.78Z" fill="#cc1136"/>
<path d="M79.60,257.30 L82.16,262.02 L77.03,262.02Z" fill="#3db54b"/>
<path d="M79.60,256.90 L82.16,261.62 L77.03,261.62Z" fill="#154d84"/>
<path d="M79.60,256.20 L82.16,251.47 L77.03,251.47Z" fill="#cc1136"/>
<path d="M86.00,255.30 L88.56,260.02 L83.44,260.02Z" fill="#3db54b"/>
<path d="M86.00,254.40 L88.56,259.12 L83.44,259.12Z" fill="#154d84"/>
<path d="M86.00,253.70 L88.56,248.97 L83.44,248.97Z" fill="#cc1136"/>
<path d="M92.40,250.50 L94.97,255.22 L89.84,255.22Z" fill="#3db54b"/>
<path d="M92.40,249.70 L94.97,254.43 L89.84,254.43Z" fill="#154d84"/>
<path d="M92.40,248.30 L94.97,243.57 L89.84,243.57Z" fill="#cc1136"/>
<path d="M98.80,241.00 L101.37,245.72 L96.24,245.72Z" fill="#3db54b"/>
<path d="M98.80,238.40 L101.37,243.12 L96.24,243.12Z" fill="#154d84"/>
<path d="M98.80,238.60 L101.37,233.88 L96.24,233.88Z" fill="#cc1136"/>
<path d="M105.20,223.70 L107.77,228.43 L102.64,228.43Z" fill="#3db54b"/>
<path d="M105.20,215.90 L107.77,220.62 L102.64,220.62Z" fill="#154d84"/>
<path d="M105.20,223.40 L107.77,218.67 L102.64,218.67Z" fill="#cc1136"/>
<path d="M111.60,206.90 L114.17,211.62 L109.04,211.62Z" fill="#3db54b"/>
<path d="M111.60,199.50 L114.17,204.22 L109.04,204.22Z" fill="#154d84"/>
<path d="M111.60,208.90 L114.17,204.17 L109.04,204.17Z" fill="#cc1136"/>
<path d="M118.00,195.20 L120.56,199.93 L115.44,199.93Z" fill="#3db54b"/>
<path d="M118.00,190.80 L120.56,195.53 L115.44,195.53Z" fill="#154d84"/>
<path d="M118.00,198.80 L120.56,194.07 L115.44,194.07Z" fill="#cc1136"/>
<path d="M124.40,187.90 L126.97,192.62 L121.84,192.62Z" fill="#3db54b"/>
<path d="M124.40,185.70 L126.97,190.43 L121.84,190.43Z" fill="#154d84"/>
<path d="M124.40,192.80 L126.97,188.07 L121.84,188.07Z" fill="#cc1136"/>
<path d="M130.80,183.90 L133.37,188.62 L128.24,188.62Z" fill="#3db54b"/>
<path d="M130.80,182.70 L133.37,187.43 L128.24,187.43Z" fill="#154d84"/>
<path d="M130.80,188.80 L133.37,184.07 L128.24,184.07Z" fill="#cc1136"/>
<path d="M137.20,182.90 L139.76,187.62 L134.63,187.62Z" fill="#3db54b"/>
<path d="M137.20,182.30 L139.76,187.03 L134.63,187.03Z" fill="#154d84"/>
<path d="M137.20,187.20 L139.76,182.47 L134.63,182.47Z" fill="#cc1136"/>
<path d="M143.60,182.70 L146.17,187.43 L141.04,187.43Z" fill="#3db54b"/>
<path d="M143.60,182.30 L146.17,187.03 L141.04,187.03Z" fill="#154d84"/>
<path d="M143.60,186.40 L146.17,181.67 L141.04,181.67Z" fill="#cc1136"/>
<path d="M150.00,182.70 L152.56,187.43 L147.44,187.43Z" fill="#3db54b"/>
<path d="M150.00,182.30 L152.56,187.03 L147.44,187.03Z" fill="#154d84"/>
<path d="M150.00,186.40 L152.56,181.67 L147.44,181.67Z" fill="#cc1136"/>
<path d="M156.40,182.70 L158.97,187.43 L153.84,187.43Z" fill="#3db54b"/>
<path d="M156.40,182.50 L158.97,187.22 L153.84,187.22Z" fill="#154d84"/>
<path d="M156.40,186.70 L158.97,181.97 L153.84,181.97Z" fill="#cc1136"/>
<path d="M162.80,182.70 L165.37,187.43 L160.24,187.43Z" fill="#3db54b"/>
<path d="M162.80,182.70 L165.37,187.43 L160.24,187.43Z" fill="#154d84"/>
<path d="M162.80,188.10 L165.37,183.38 L160.24,183.38Z" fill="#cc1136"/>
<path d="M169.20,182.70 L171.76,187.43 L166.63,187.43Z" fill="#3db54b"/>
<path d="M169.20,182.90 L171.76,187.62 L166.63,187.62Z" fill="#154d84"/>
<path d="M169.20,189.00 L171.76,184.28 L166.63,184.28Z" fill="#cc1136"/>
<line x1="168.70" y1="207.50" x2="177.70" y2="207.50" stroke="#cc1136" stroke-width="1.3"/>
<path d="M173.20,210.10 L175.67,205.55 L170.73,205.55Z" fill="#cc1136"/>
<text x="180.20" y="210.20" font-size="7.9" textLength="48" lengthAdjust="spacingAndGlyphs">Neg-Microlyse</text>
<line x1="168.70" y1="217.70" x2="177.70" y2="217.70" stroke="#154d84" stroke-width="1.3"/>
<path d="M173.20,215.10 L175.67,219.65 L170.73,219.65Z" fill="#154d84"/>
<text x="180.20" y="220.40" font-size="7.9" textLength="41.5" lengthAdjust="spacingAndGlyphs">Microlyse #1</text>
<line x1="168.70" y1="227.30" x2="177.70" y2="227.30" stroke="#3db54b" stroke-width="1.3"/>
<path d="M173.20,224.70 L175.67,229.25 L170.73,229.25Z" fill="#3db54b"/>
<text x="180.20" y="230.00" font-size="7.9" textLength="41.5" lengthAdjust="spacingAndGlyphs">Microlyse #2</text>
<line x1="168.70" y1="236.90" x2="177.70" y2="236.90" stroke="#57176f" stroke-width="1.3"/>
<circle cx="173.20" cy="236.90" r="1.56" fill="#57176f"/>
<text x="180.20" y="239.60" font-size="7.9" textLength="23.8" lengthAdjust="spacingAndGlyphs">Vehicle</text>
<text x="257.60" y="165.40" font-size="10.3" font-weight="bold" fill="#000" style="stroke:#000;stroke-width:0.45px">E</text>
<line x1="291.20" y1="172.50" x2="291.20" y2="263.10" stroke="#231f20" stroke-width="1.5"/>
<line x1="288.00" y1="262.40" x2="291.20" y2="262.40" stroke="#231f20" stroke-width="0.9"/>
<text x="285.40" y="265.70" font-size="9.3" text-anchor="end" textLength="4.5" lengthAdjust="spacingAndGlyphs" class="tk">0</text>
<line x1="288.00" y1="233.70" x2="291.20" y2="233.70" stroke="#231f20" stroke-width="0.9"/>
<text x="285.40" y="237.00" font-size="9.3" text-anchor="end" textLength="11.26" lengthAdjust="spacingAndGlyphs" class="tk">0.5</text>
<line x1="288.00" y1="205.00" x2="291.20" y2="205.00" stroke="#231f20" stroke-width="0.9"/>
<text x="285.40" y="208.30" font-size="9.3" text-anchor="end" textLength="11.26" lengthAdjust="spacingAndGlyphs" class="tk">1.0</text>
<line x1="288.00" y1="176.30" x2="291.20" y2="176.30" stroke="#231f20" stroke-width="0.9"/>
<text x="285.40" y="179.60" font-size="9.3" text-anchor="end" textLength="11.26" lengthAdjust="spacingAndGlyphs" class="tk">1.5</text>
<line x1="287.50" y1="262.40" x2="425.40" y2="262.40" stroke="#231f20" stroke-width="1.5"/>
<line x1="305.80" y1="262.40" x2="305.80" y2="265.40" stroke="#231f20" stroke-width="0.9"/>
<text x="305.80" y="274.40" font-size="9.3" text-anchor="middle" textLength="24.77" lengthAdjust="spacingAndGlyphs" class="tk">0.0001</text>
<line x1="320.10" y1="262.40" x2="320.10" y2="265.40" stroke="#231f20" stroke-width="0.9"/>
<line x1="334.40" y1="262.40" x2="334.40" y2="265.40" stroke="#231f20" stroke-width="0.9"/>
<text x="334.40" y="274.40" font-size="9.3" text-anchor="middle" textLength="15.76" lengthAdjust="spacingAndGlyphs" class="tk">0.01</text>
<line x1="348.70" y1="262.40" x2="348.70" y2="265.40" stroke="#231f20" stroke-width="0.9"/>
<line x1="363.00" y1="262.40" x2="363.00" y2="265.40" stroke="#231f20" stroke-width="0.9"/>
<text x="363.00" y="274.40" font-size="9.3" text-anchor="middle" textLength="4.5" lengthAdjust="spacingAndGlyphs" class="tk">1</text>
<line x1="377.30" y1="262.40" x2="377.30" y2="265.40" stroke="#231f20" stroke-width="0.9"/>
<line x1="391.60" y1="262.40" x2="391.60" y2="265.40" stroke="#231f20" stroke-width="0.9"/>
<text x="391.60" y="274.40" font-size="9.3" text-anchor="middle" textLength="13.51" lengthAdjust="spacingAndGlyphs" class="tk">100</text>
<line x1="405.90" y1="262.40" x2="405.90" y2="265.40" stroke="#231f20" stroke-width="0.9"/>
<line x1="420.20" y1="262.40" x2="420.20" y2="265.40" stroke="#231f20" stroke-width="0.9"/>
<text x="420.20" y="274.40" font-size="9.3" text-anchor="middle" textLength="22.52" lengthAdjust="spacingAndGlyphs" class="tk">10000</text>
<line x1="295.80" y1="262.40" x2="295.80" y2="264.20" stroke="#231f20" stroke-width="0.8"/>
<line x1="298.32" y1="262.40" x2="298.32" y2="264.20" stroke="#231f20" stroke-width="0.8"/>
<line x1="300.11" y1="262.40" x2="300.11" y2="264.20" stroke="#231f20" stroke-width="0.8"/>
<line x1="301.50" y1="262.40" x2="301.50" y2="264.20" stroke="#231f20" stroke-width="0.8"/>
<line x1="302.63" y1="262.40" x2="302.63" y2="264.20" stroke="#231f20" stroke-width="0.8"/>
<line x1="303.58" y1="262.40" x2="303.58" y2="264.20" stroke="#231f20" stroke-width="0.8"/>
<line x1="304.41" y1="262.40" x2="304.41" y2="264.20" stroke="#231f20" stroke-width="0.8"/>
<line x1="305.15" y1="262.40" x2="305.15" y2="264.20" stroke="#231f20" stroke-width="0.8"/>
<line x1="310.10" y1="262.40" x2="310.10" y2="264.20" stroke="#231f20" stroke-width="0.8"/>
<line x1="312.62" y1="262.40" x2="312.62" y2="264.20" stroke="#231f20" stroke-width="0.8"/>
<line x1="314.41" y1="262.40" x2="314.41" y2="264.20" stroke="#231f20" stroke-width="0.8"/>
<line x1="315.80" y1="262.40" x2="315.80" y2="264.20" stroke="#231f20" stroke-width="0.8"/>
<line x1="316.93" y1="262.40" x2="316.93" y2="264.20" stroke="#231f20" stroke-width="0.8"/>
<line x1="317.88" y1="262.40" x2="317.88" y2="264.20" stroke="#231f20" stroke-width="0.8"/>
<line x1="318.71" y1="262.40" x2="318.71" y2="264.20" stroke="#231f20" stroke-width="0.8"/>
<line x1="319.45" y1="262.40" x2="319.45" y2="264.20" stroke="#231f20" stroke-width="0.8"/>
<line x1="324.40" y1="262.40" x2="324.40" y2="264.20" stroke="#231f20" stroke-width="0.8"/>
<line x1="326.92" y1="262.40" x2="326.92" y2="264.20" stroke="#231f20" stroke-width="0.8"/>
<line x1="328.71" y1="262.40" x2="328.71" y2="264.20" stroke="#231f20" stroke-width="0.8"/>
<line x1="330.10" y1="262.40" x2="330.10" y2="264.20" stroke="#231f20" stroke-width="0.8"/>
<line x1="331.23" y1="262.40" x2="331.23" y2="264.20" stroke="#231f20" stroke-width="0.8"/>
<line x1="332.18" y1="262.40" x2="332.18" y2="264.20" stroke="#231f20" stroke-width="0.8"/>
<line x1="333.01" y1="262.40" x2="333.01" y2="264.20" stroke="#231f20" stroke-width="0.8"/>
<line x1="333.75" y1="262.40" x2="333.75" y2="264.20" stroke="#231f20" stroke-width="0.8"/>
<line x1="338.70" y1="262.40" x2="338.70" y2="264.20" stroke="#231f20" stroke-width="0.8"/>
<line x1="341.22" y1="262.40" x2="341.22" y2="264.20" stroke="#231f20" stroke-width="0.8"/>
<line x1="343.01" y1="262.40" x2="343.01" y2="264.20" stroke="#231f20" stroke-width="0.8"/>
<line x1="344.40" y1="262.40" x2="344.40" y2="264.20" stroke="#231f20" stroke-width="0.8"/>
<line x1="345.53" y1="262.40" x2="345.53" y2="264.20" stroke="#231f20" stroke-width="0.8"/>
<line x1="346.48" y1="262.40" x2="346.48" y2="264.20" stroke="#231f20" stroke-width="0.8"/>
<line x1="347.31" y1="262.40" x2="347.31" y2="264.20" stroke="#231f20" stroke-width="0.8"/>
<line x1="348.05" y1="262.40" x2="348.05" y2="264.20" stroke="#231f20" stroke-width="0.8"/>
<line x1="353.00" y1="262.40" x2="353.00" y2="264.20" stroke="#231f20" stroke-width="0.8"/>
<line x1="355.52" y1="262.40" x2="355.52" y2="264.20" stroke="#231f20" stroke-width="0.8"/>
<line x1="357.31" y1="262.40" x2="357.31" y2="264.20" stroke="#231f20" stroke-width="0.8"/>
<line x1="358.70" y1="262.40" x2="358.70" y2="264.20" stroke="#231f20" stroke-width="0.8"/>
<line x1="359.83" y1="262.40" x2="359.83" y2="264.20" stroke="#231f20" stroke-width="0.8"/>
<line x1="360.78" y1="262.40" x2="360.78" y2="264.20" stroke="#231f20" stroke-width="0.8"/>
<line x1="361.61" y1="262.40" x2="361.61" y2="264.20" stroke="#231f20" stroke-width="0.8"/>
<line x1="362.35" y1="262.40" x2="362.35" y2="264.20" stroke="#231f20" stroke-width="0.8"/>
<line x1="367.30" y1="262.40" x2="367.30" y2="264.20" stroke="#231f20" stroke-width="0.8"/>
<line x1="369.82" y1="262.40" x2="369.82" y2="264.20" stroke="#231f20" stroke-width="0.8"/>
<line x1="371.61" y1="262.40" x2="371.61" y2="264.20" stroke="#231f20" stroke-width="0.8"/>
<line x1="373.00" y1="262.40" x2="373.00" y2="264.20" stroke="#231f20" stroke-width="0.8"/>
<line x1="374.13" y1="262.40" x2="374.13" y2="264.20" stroke="#231f20" stroke-width="0.8"/>
<line x1="375.08" y1="262.40" x2="375.08" y2="264.20" stroke="#231f20" stroke-width="0.8"/>
<line x1="375.91" y1="262.40" x2="375.91" y2="264.20" stroke="#231f20" stroke-width="0.8"/>
<line x1="376.65" y1="262.40" x2="376.65" y2="264.20" stroke="#231f20" stroke-width="0.8"/>
<line x1="381.60" y1="262.40" x2="381.60" y2="264.20" stroke="#231f20" stroke-width="0.8"/>
<line x1="384.12" y1="262.40" x2="384.12" y2="264.20" stroke="#231f20" stroke-width="0.8"/>
<line x1="385.91" y1="262.40" x2="385.91" y2="264.20" stroke="#231f20" stroke-width="0.8"/>
<line x1="387.30" y1="262.40" x2="387.30" y2="264.20" stroke="#231f20" stroke-width="0.8"/>
<line x1="388.43" y1="262.40" x2="388.43" y2="264.20" stroke="#231f20" stroke-width="0.8"/>
<line x1="389.38" y1="262.40" x2="389.38" y2="264.20" stroke="#231f20" stroke-width="0.8"/>
<line x1="390.21" y1="262.40" x2="390.21" y2="264.20" stroke="#231f20" stroke-width="0.8"/>
<line x1="390.95" y1="262.40" x2="390.95" y2="264.20" stroke="#231f20" stroke-width="0.8"/>
<line x1="395.90" y1="262.40" x2="395.90" y2="264.20" stroke="#231f20" stroke-width="0.8"/>
<line x1="398.42" y1="262.40" x2="398.42" y2="264.20" stroke="#231f20" stroke-width="0.8"/>
<line x1="400.21" y1="262.40" x2="400.21" y2="264.20" stroke="#231f20" stroke-width="0.8"/>
<line x1="401.60" y1="262.40" x2="401.60" y2="264.20" stroke="#231f20" stroke-width="0.8"/>
<line x1="402.73" y1="262.40" x2="402.73" y2="264.20" stroke="#231f20" stroke-width="0.8"/>
<line x1="403.68" y1="262.40" x2="403.68" y2="264.20" stroke="#231f20" stroke-width="0.8"/>
<line x1="404.51" y1="262.40" x2="404.51" y2="264.20" stroke="#231f20" stroke-width="0.8"/>
<line x1="405.25" y1="262.40" x2="405.25" y2="264.20" stroke="#231f20" stroke-width="0.8"/>
<line x1="410.20" y1="262.40" x2="410.20" y2="264.20" stroke="#231f20" stroke-width="0.8"/>
<line x1="412.72" y1="262.40" x2="412.72" y2="264.20" stroke="#231f20" stroke-width="0.8"/>
<line x1="414.51" y1="262.40" x2="414.51" y2="264.20" stroke="#231f20" stroke-width="0.8"/>
<line x1="415.90" y1="262.40" x2="415.90" y2="264.20" stroke="#231f20" stroke-width="0.8"/>
<line x1="417.03" y1="262.40" x2="417.03" y2="264.20" stroke="#231f20" stroke-width="0.8"/>
<line x1="417.98" y1="262.40" x2="417.98" y2="264.20" stroke="#231f20" stroke-width="0.8"/>
<line x1="418.81" y1="262.40" x2="418.81" y2="264.20" stroke="#231f20" stroke-width="0.8"/>
<line x1="419.55" y1="262.40" x2="419.55" y2="264.20" stroke="#231f20" stroke-width="0.8"/>
<text x="359.10" y="287.50" font-size="8.8" text-anchor="middle" textLength="48.5" lengthAdjust="spacingAndGlyphs">Construct (nM)</text>
<g transform="translate(264.60,258.65) rotate(-90)"><text x="0" y="0" font-size="9" textLength="55.81" lengthAdjust="spacingAndGlyphs">VWF binding (OD</text><text x="57.02" y="3.2" font-size="7.5" textLength="20.75" lengthAdjust="spacingAndGlyphs">450 nm</text><text x="78.78" y="0" font-size="9" textLength="2.92" lengthAdjust="spacingAndGlyphs">)</text></g>
<line x1="323.60" y1="252.30" x2="323.60" y2="256.30" stroke="#6d6d6d" stroke-width="0.8"/>
<line x1="322.00" y1="252.30" x2="325.20" y2="252.30" stroke="#6d6d6d" stroke-width="0.8"/>
<line x1="322.00" y1="256.30" x2="325.20" y2="256.30" stroke="#6d6d6d" stroke-width="0.8"/>
<line x1="330.50" y1="238.90" x2="330.50" y2="253.90" stroke="#6d6d6d" stroke-width="0.8"/>
<line x1="328.90" y1="238.90" x2="332.10" y2="238.90" stroke="#6d6d6d" stroke-width="0.8"/>
<line x1="328.90" y1="253.90" x2="332.10" y2="253.90" stroke="#6d6d6d" stroke-width="0.8"/>
<line x1="337.30" y1="223.70" x2="337.30" y2="246.70" stroke="#6d6d6d" stroke-width="0.8"/>
<line x1="335.70" y1="223.70" x2="338.90" y2="223.70" stroke="#6d6d6d" stroke-width="0.8"/>
<line x1="335.70" y1="246.70" x2="338.90" y2="246.70" stroke="#6d6d6d" stroke-width="0.8"/>
<line x1="337.30" y1="253.40" x2="337.30" y2="257.40" stroke="#6d6d6d" stroke-width="0.8"/>
<line x1="335.70" y1="253.40" x2="338.90" y2="253.40" stroke="#6d6d6d" stroke-width="0.8"/>
<line x1="335.70" y1="257.40" x2="338.90" y2="257.40" stroke="#6d6d6d" stroke-width="0.8"/>
<line x1="344.10" y1="214.10" x2="344.10" y2="231.60" stroke="#6d6d6d" stroke-width="0.8"/>
<line x1="342.50" y1="214.10" x2="345.70" y2="214.10" stroke="#6d6d6d" stroke-width="0.8"/>
<line x1="342.50" y1="231.60" x2="345.70" y2="231.60" stroke="#6d6d6d" stroke-width="0.8"/>
<line x1="344.10" y1="246.10" x2="344.10" y2="254.10" stroke="#6d6d6d" stroke-width="0.8"/>
<line x1="342.50" y1="246.10" x2="345.70" y2="246.10" stroke="#6d6d6d" stroke-width="0.8"/>
<line x1="342.50" y1="254.10" x2="345.70" y2="254.10" stroke="#6d6d6d" stroke-width="0.8"/>
<line x1="351.10" y1="206.80" x2="351.10" y2="210.80" stroke="#6d6d6d" stroke-width="0.8"/>
<line x1="349.50" y1="206.80" x2="352.70" y2="206.80" stroke="#6d6d6d" stroke-width="0.8"/>
<line x1="349.50" y1="210.80" x2="352.70" y2="210.80" stroke="#6d6d6d" stroke-width="0.8"/>
<line x1="351.10" y1="225.80" x2="351.10" y2="252.20" stroke="#6d6d6d" stroke-width="0.8"/>
<line x1="349.50" y1="225.80" x2="352.70" y2="225.80" stroke="#6d6d6d" stroke-width="0.8"/>
<line x1="349.50" y1="252.20" x2="352.70" y2="252.20" stroke="#6d6d6d" stroke-width="0.8"/>
<line x1="358.00" y1="217.30" x2="358.00" y2="244.80" stroke="#6d6d6d" stroke-width="0.8"/>
<line x1="356.40" y1="217.30" x2="359.60" y2="217.30" stroke="#6d6d6d" stroke-width="0.8"/>
<line x1="356.40" y1="244.80" x2="359.60" y2="244.80" stroke="#6d6d6d" stroke-width="0.8"/>
<line x1="364.80" y1="191.20" x2="364.80" y2="198.20" stroke="#6d6d6d" stroke-width="0.8"/>
<line x1="363.20" y1="191.20" x2="366.40" y2="191.20" stroke="#6d6d6d" stroke-width="0.8"/>
<line x1="363.20" y1="198.20" x2="366.40" y2="198.20" stroke="#6d6d6d" stroke-width="0.8"/>
<line x1="364.80" y1="210.50" x2="364.80" y2="227.50" stroke="#6d6d6d" stroke-width="0.8"/>
<line x1="363.20" y1="210.50" x2="366.40" y2="210.50" stroke="#6d6d6d" stroke-width="0.8"/>
<line x1="363.20" y1="227.50" x2="366.40" y2="227.50" stroke="#6d6d6d" stroke-width="0.8"/>
<line x1="371.60" y1="190.20" x2="371.60" y2="196.70" stroke="#6d6d6d" stroke-width="0.8"/>
<line x1="370.00" y1="190.20" x2="373.20" y2="190.20" stroke="#6d6d6d" stroke-width="0.8"/>
<line x1="370.00" y1="196.70" x2="373.20" y2="196.70" stroke="#6d6d6d" stroke-width="0.8"/>
<line x1="371.60" y1="204.60" x2="371.60" y2="221.10" stroke="#6d6d6d" stroke-width="0.8"/>
<line x1="370.00" y1="204.60" x2="373.20" y2="204.60" stroke="#6d6d6d" stroke-width="0.8"/>
<line x1="370.00" y1="221.10" x2="373.20" y2="221.10" stroke="#6d6d6d" stroke-width="0.8"/>
<line x1="378.60" y1="191.70" x2="378.60" y2="196.70" stroke="#6d6d6d" stroke-width="0.8"/>
<line x1="377.00" y1="191.70" x2="380.20" y2="191.70" stroke="#6d6d6d" stroke-width="0.8"/>
<line x1="377.00" y1="196.70" x2="380.20" y2="196.70" stroke="#6d6d6d" stroke-width="0.8"/>
<line x1="378.60" y1="205.30" x2="378.60" y2="219.40" stroke="#6d6d6d" stroke-width="0.8"/>
<line x1="377.00" y1="205.30" x2="380.20" y2="205.30" stroke="#6d6d6d" stroke-width="0.8"/>
<line x1="377.00" y1="219.40" x2="380.20" y2="219.40" stroke="#6d6d6d" stroke-width="0.8"/>
<line x1="385.50" y1="190.90" x2="385.50" y2="196.50" stroke="#6d6d6d" stroke-width="0.8"/>
<line x1="383.90" y1="190.90" x2="387.10" y2="190.90" stroke="#6d6d6d" stroke-width="0.8"/>
<line x1="383.90" y1="196.50" x2="387.10" y2="196.50" stroke="#6d6d6d" stroke-width="0.8"/>
<line x1="385.50" y1="202.50" x2="385.50" y2="216.30" stroke="#6d6d6d" stroke-width="0.8"/>
<line x1="383.90" y1="202.50" x2="387.10" y2="202.50" stroke="#6d6d6d" stroke-width="0.8"/>
<line x1="383.90" y1="216.30" x2="387.10" y2="216.30" stroke="#6d6d6d" stroke-width="0.8"/>
<line x1="392.30" y1="188.80" x2="392.30" y2="197.80" stroke="#6d6d6d" stroke-width="0.8"/>
<line x1="390.70" y1="188.80" x2="393.90" y2="188.80" stroke="#6d6d6d" stroke-width="0.8"/>
<line x1="390.70" y1="197.80" x2="393.90" y2="197.80" stroke="#6d6d6d" stroke-width="0.8"/>
<line x1="392.30" y1="202.50" x2="392.30" y2="214.80" stroke="#6d6d6d" stroke-width="0.8"/>
<line x1="390.70" y1="202.50" x2="393.90" y2="202.50" stroke="#6d6d6d" stroke-width="0.8"/>
<line x1="390.70" y1="214.80" x2="393.90" y2="214.80" stroke="#6d6d6d" stroke-width="0.8"/>
<line x1="398.70" y1="186.00" x2="398.70" y2="196.20" stroke="#6d6d6d" stroke-width="0.8"/>
<line x1="397.10" y1="186.00" x2="400.30" y2="186.00" stroke="#6d6d6d" stroke-width="0.8"/>
<line x1="397.10" y1="196.20" x2="400.30" y2="196.20" stroke="#6d6d6d" stroke-width="0.8"/>
<line x1="398.70" y1="202.00" x2="398.70" y2="211.40" stroke="#6d6d6d" stroke-width="0.8"/>
<line x1="397.10" y1="202.00" x2="400.30" y2="202.00" stroke="#6d6d6d" stroke-width="0.8"/>
<line x1="397.10" y1="211.40" x2="400.30" y2="211.40" stroke="#6d6d6d" stroke-width="0.8"/>
<path d="M303.00,258.60 C304.13,258.63 307.53,258.73 309.80,258.80 C312.07,258.87 314.30,258.95 316.60,259.00 C318.90,259.05 321.28,259.07 323.60,259.10 C325.92,259.13 328.22,259.18 330.50,259.20 C332.78,259.22 335.03,259.20 337.30,259.20 C339.57,259.20 341.80,259.20 344.10,259.20 C346.40,259.20 348.78,259.20 351.10,259.20 C353.42,259.20 355.72,259.20 358.00,259.20 C360.28,259.20 362.53,259.23 364.80,259.20 C367.07,259.17 369.30,259.07 371.60,259.00 C373.90,258.93 376.28,258.87 378.60,258.80 C380.92,258.73 383.22,259.00 385.50,258.60 C387.78,258.20 390.10,257.57 392.30,256.40 C394.50,255.23 397.63,252.40 398.70,251.60" fill="none" stroke="#cc1136" stroke-width="1.3"/>
<path d="M316.60,259.60 C317.77,259.50 321.28,259.17 323.60,259.00 C325.92,258.83 328.22,259.20 330.50,258.60 C332.78,258.00 335.03,256.82 337.30,255.40 C339.57,253.98 341.80,252.63 344.10,250.10 C346.40,247.57 348.78,243.62 351.10,240.20 C353.42,236.78 355.72,232.95 358.00,229.60 C360.28,226.25 362.53,222.75 364.80,220.10 C367.07,217.45 369.30,214.93 371.60,213.70 C373.90,212.47 376.28,213.33 378.60,212.70 C380.92,212.07 383.22,210.62 385.50,209.90 C387.78,209.18 390.10,208.85 392.30,208.40 C394.50,207.95 397.63,207.40 398.70,207.20" fill="none" stroke="#154d84" stroke-width="1.3"/>
<path d="M303.00,259.60 C304.13,259.43 307.53,259.02 309.80,258.60 C312.07,258.18 314.30,257.82 316.60,257.10 C318.90,256.38 321.28,256.00 323.60,254.30 C325.92,252.60 328.22,250.00 330.50,246.90 C332.78,243.80 335.03,239.75 337.30,235.70 C339.57,231.65 341.80,227.08 344.10,222.60 C346.40,218.12 348.78,212.78 351.10,208.80 C353.42,204.82 355.72,200.80 358.00,198.70 C360.28,196.60 362.53,196.87 364.80,196.20 C367.07,195.53 369.30,194.95 371.60,194.70 C373.90,194.45 376.28,194.73 378.60,194.70 C380.92,194.67 383.22,194.72 385.50,194.50 C387.78,194.28 390.10,193.90 392.30,193.40 C394.50,192.90 397.63,191.82 398.70,191.50" fill="none" stroke="#3db54b" stroke-width="1.3"/>
<path d="M303.00,261.00 L305.28,256.80 L300.72,256.80Z" fill="#cc1136"/>
<path d="M303.00,257.20 L305.28,261.40 L300.72,261.40Z" fill="#3db54b"/>
<path d="M309.80,261.20 L312.08,257.00 L307.52,257.00Z" fill="#cc1136"/>
<path d="M309.80,256.20 L312.08,260.40 L307.52,260.40Z" fill="#3db54b"/>
<path d="M316.60,261.40 L318.88,257.20 L314.32,257.20Z" fill="#cc1136"/>
<path d="M316.60,257.20 L318.88,261.40 L314.32,261.40Z" fill="#154d84"/>
<path d="M316.60,254.70 L318.88,258.90 L314.32,258.90Z" fill="#3db54b"/>
<path d="M323.60,261.50 L325.88,257.30 L321.32,257.30Z" fill="#cc1136"/>
<path d="M323.60,256.60 L325.88,260.80 L321.32,260.80Z" fill="#154d84"/>
<path d="M323.60,251.90 L325.88,256.10 L321.32,256.10Z" fill="#3db54b"/>
<path d="M330.50,261.60 L332.78,257.40 L328.22,257.40Z" fill="#cc1136"/>
<path d="M330.50,256.20 L332.78,260.40 L328.22,260.40Z" fill="#154d84"/>
<path d="M330.50,244.50 L332.78,248.70 L328.22,248.70Z" fill="#3db54b"/>
<path d="M337.30,261.60 L339.58,257.40 L335.02,257.40Z" fill="#cc1136"/>
<path d="M337.30,253.00 L339.58,257.20 L335.02,257.20Z" fill="#154d84"/>
<path d="M337.30,233.30 L339.58,237.50 L335.02,237.50Z" fill="#3db54b"/>
<path d="M344.10,261.60 L346.38,257.40 L341.82,257.40Z" fill="#cc1136"/>
<path d="M344.10,247.70 L346.38,251.90 L341.82,251.90Z" fill="#154d84"/>
<path d="M344.10,220.20 L346.38,224.40 L341.82,224.40Z" fill="#3db54b"/>
<path d="M351.10,261.60 L353.38,257.40 L348.82,257.40Z" fill="#cc1136"/>
<path d="M351.10,237.80 L353.38,242.00 L348.82,242.00Z" fill="#154d84"/>
<path d="M351.10,206.40 L353.38,210.60 L348.82,210.60Z" fill="#3db54b"/>
<path d="M358.00,261.60 L360.28,257.40 L355.72,257.40Z" fill="#cc1136"/>
<path d="M358.00,227.20 L360.28,231.40 L355.72,231.40Z" fill="#154d84"/>
<path d="M358.00,196.30 L360.28,200.50 L355.72,200.50Z" fill="#3db54b"/>
<path d="M364.80,261.60 L367.08,257.40 L362.52,257.40Z" fill="#cc1136"/>
<path d="M364.80,217.70 L367.08,221.90 L362.52,221.90Z" fill="#154d84"/>
<path d="M364.80,193.80 L367.08,198.00 L362.52,198.00Z" fill="#3db54b"/>
<path d="M371.60,261.40 L373.88,257.20 L369.32,257.20Z" fill="#cc1136"/>
<path d="M371.60,211.30 L373.88,215.50 L369.32,215.50Z" fill="#154d84"/>
<path d="M371.60,192.30 L373.88,196.50 L369.32,196.50Z" fill="#3db54b"/>
<path d="M378.60,261.20 L380.88,257.00 L376.32,257.00Z" fill="#cc1136"/>
<path d="M378.60,210.30 L380.88,214.50 L376.32,214.50Z" fill="#154d84"/>
<path d="M378.60,192.30 L380.88,196.50 L376.32,196.50Z" fill="#3db54b"/>
<path d="M385.50,261.00 L387.78,256.80 L383.22,256.80Z" fill="#cc1136"/>
<path d="M385.50,207.50 L387.78,211.70 L383.22,211.70Z" fill="#154d84"/>
<path d="M385.50,192.10 L387.78,196.30 L383.22,196.30Z" fill="#3db54b"/>
<path d="M392.30,258.80 L394.58,254.60 L390.02,254.60Z" fill="#cc1136"/>
<path d="M392.30,206.00 L394.58,210.20 L390.02,210.20Z" fill="#154d84"/>
<path d="M392.30,191.00 L394.58,195.20 L390.02,195.20Z" fill="#3db54b"/>
<path d="M398.70,254.00 L400.98,249.80 L396.42,249.80Z" fill="#cc1136"/>
<path d="M398.70,204.80 L400.98,209.00 L396.42,209.00Z" fill="#154d84"/>
<path d="M398.70,189.10 L400.98,193.30 L396.42,193.30Z" fill="#3db54b"/>
<line x1="439.20" y1="174.40" x2="448.50" y2="174.40" stroke="#3db54b" stroke-width="1.3"/>
<path d="M443.85,171.70 L446.42,176.43 L441.29,176.43Z" fill="#3db54b"/>
<text x="452.20" y="177.10" font-size="7.9" textLength="41.5" lengthAdjust="spacingAndGlyphs">Microlyse #2</text>
<text x="440.70" y="186.00" font-size="7.9" textLength="60.5" lengthAdjust="spacingAndGlyphs">Kd: 30.6±24.9 pM</text>
<line x1="439.20" y1="199.50" x2="448.50" y2="199.50" stroke="#154d84" stroke-width="1.3"/>
<path d="M443.85,196.80 L446.42,201.53 L441.29,201.53Z" fill="#154d84"/>
<text x="452.20" y="202.20" font-size="7.9" textLength="41.5" lengthAdjust="spacingAndGlyphs">Microlyse #1</text>
<text x="440.70" y="211.80" font-size="7.9" textLength="68.3" lengthAdjust="spacingAndGlyphs">Kd: 327.9±200.5 pM</text>
<line x1="439.20" y1="225.80" x2="448.50" y2="225.80" stroke="#cc1136" stroke-width="1.3"/>
<path d="M443.85,228.50 L446.42,223.78 L441.29,223.78Z" fill="#cc1136"/>
<text x="452.20" y="228.50" font-size="7.9" textLength="48" lengthAdjust="spacingAndGlyphs">Neg-Microlyse</text>
<text x="441.50" y="238.40" font-size="7.9" textLength="66.4" lengthAdjust="spacingAndGlyphs">Kd: Not determined</text>
<text x="7.50" y="296.20" font-size="10.3" font-weight="bold" fill="#000" style="stroke:#000;stroke-width:0.45px" textLength="6.7" lengthAdjust="spacingAndGlyphs">F</text>
<line x1="40.90" y1="303.00" x2="40.90" y2="393.00" stroke="#231f20" stroke-width="1.5"/>
<line x1="37.70" y1="392.30" x2="40.90" y2="392.30" stroke="#231f20" stroke-width="0.9"/>
<text x="35.10" y="395.60" font-size="9.3" text-anchor="end" textLength="11.26" lengthAdjust="spacingAndGlyphs" class="tk">0.0</text>
<line x1="37.70" y1="375.25" x2="40.90" y2="375.25" stroke="#231f20" stroke-width="0.9"/>
<text x="35.10" y="378.55" font-size="9.3" text-anchor="end" textLength="11.26" lengthAdjust="spacingAndGlyphs" class="tk">0.5</text>
<line x1="37.70" y1="358.20" x2="40.90" y2="358.20" stroke="#231f20" stroke-width="0.9"/>
<text x="35.10" y="361.50" font-size="9.3" text-anchor="end" textLength="11.26" lengthAdjust="spacingAndGlyphs" class="tk">1.0</text>
<line x1="37.70" y1="341.15" x2="40.90" y2="341.15" stroke="#231f20" stroke-width="0.9"/>
<text x="35.10" y="344.45" font-size="9.3" text-anchor="end" textLength="11.26" lengthAdjust="spacingAndGlyphs" class="tk">1.5</text>
<line x1="37.70" y1="324.10" x2="40.90" y2="324.10" stroke="#231f20" stroke-width="0.9"/>
<text x="35.10" y="327.40" font-size="9.3" text-anchor="end" textLength="11.26" lengthAdjust="spacingAndGlyphs" class="tk">2.0</text>
<line x1="37.70" y1="307.05" x2="40.90" y2="307.05" stroke="#231f20" stroke-width="0.9"/>
<text x="35.10" y="310.35" font-size="9.3" text-anchor="end" textLength="11.26" lengthAdjust="spacingAndGlyphs" class="tk">2.5</text>
<line x1="40.20" y1="392.30" x2="176.20" y2="392.30" stroke="#231f20" stroke-width="1.5"/>
<line x1="61.30" y1="392.30" x2="61.30" y2="395.50" stroke="#231f20" stroke-width="0.9"/>
<line x1="105.40" y1="392.30" x2="105.40" y2="395.50" stroke="#231f20" stroke-width="0.9"/>
<line x1="149.70" y1="392.30" x2="149.70" y2="395.50" stroke="#231f20" stroke-width="0.9"/>
<rect x="45.50" y="391.24" width="7.10" height="0.76" fill="#cc1136" stroke="#b8002a" stroke-width="0.6"/>
<line x1="49.05" y1="390.94" x2="49.05" y2="390.14" stroke="#333" stroke-width="0.8"/>
<line x1="46.95" y1="390.14" x2="51.15" y2="390.14" stroke="#333" stroke-width="0.8"/>
<rect x="57.70" y="337.36" width="7.10" height="54.64" fill="#154d84" stroke="#0c3f73" stroke-width="0.6"/>
<line x1="61.25" y1="337.06" x2="61.25" y2="334.66" stroke="#333" stroke-width="0.8"/>
<line x1="59.15" y1="334.66" x2="63.35" y2="334.66" stroke="#333" stroke-width="0.8"/>
<rect x="69.90" y="337.02" width="7.10" height="54.98" fill="#3db54b" stroke="#2aa83c" stroke-width="0.6"/>
<line x1="73.45" y1="336.72" x2="73.45" y2="334.02" stroke="#333" stroke-width="0.8"/>
<line x1="71.35" y1="334.02" x2="75.55" y2="334.02" stroke="#333" stroke-width="0.8"/>
<rect x="89.70" y="388.17" width="7.10" height="3.83" fill="#cc1136" stroke="#b8002a" stroke-width="0.6"/>
<line x1="93.25" y1="387.87" x2="93.25" y2="385.67" stroke="#333" stroke-width="0.8"/>
<line x1="91.15" y1="385.67" x2="95.35" y2="385.67" stroke="#333" stroke-width="0.8"/>
<rect x="101.80" y="377.25" width="7.10" height="14.75" fill="#154d84" stroke="#0c3f73" stroke-width="0.6"/>
<line x1="105.35" y1="376.95" x2="105.35" y2="372.56" stroke="#333" stroke-width="0.8"/>
<line x1="103.25" y1="372.56" x2="107.45" y2="372.56" stroke="#333" stroke-width="0.8"/>
<rect x="114.30" y="320.99" width="7.10" height="71.01" fill="#3db54b" stroke="#2aa83c" stroke-width="0.6"/>
<line x1="117.85" y1="320.69" x2="117.85" y2="317.49" stroke="#333" stroke-width="0.8"/>
<line x1="115.75" y1="317.49" x2="119.95" y2="317.49" stroke="#333" stroke-width="0.8"/>
<rect x="134.10" y="391.24" width="7.10" height="0.76" fill="#cc1136" stroke="#b8002a" stroke-width="0.6"/>
<line x1="137.65" y1="390.94" x2="137.65" y2="390.04" stroke="#333" stroke-width="0.8"/>
<line x1="135.55" y1="390.04" x2="139.75" y2="390.04" stroke="#333" stroke-width="0.8"/>
<rect x="146.20" y="391.24" width="7.10" height="0.76" fill="#154d84" stroke="#0c3f73" stroke-width="0.6"/>
<line x1="149.75" y1="390.94" x2="149.75" y2="390.04" stroke="#333" stroke-width="0.8"/>
<line x1="147.65" y1="390.04" x2="151.85" y2="390.04" stroke="#333" stroke-width="0.8"/>
<rect x="158.30" y="391.24" width="7.10" height="0.76" fill="#3db54b" stroke="#2aa83c" stroke-width="0.6"/>
<line x1="161.85" y1="390.94" x2="161.85" y2="390.04" stroke="#333" stroke-width="0.8"/>
<line x1="159.75" y1="390.04" x2="163.95" y2="390.04" stroke="#333" stroke-width="0.8"/>
<text x="65.00" y="402.30" font-size="7.5" text-anchor="end" textLength="38" lengthAdjust="spacingAndGlyphs" transform="rotate(-45 65.00 402.30)">Full-length</text>
<text x="109.80" y="402.60" font-size="7.5" text-anchor="end" textLength="22.8" lengthAdjust="spacingAndGlyphs" transform="rotate(-45 109.80 402.60)">&#916;D’D3</text>
<text x="154.00" y="401.40" font-size="7.5" text-anchor="end" textLength="25.2" lengthAdjust="spacingAndGlyphs" transform="rotate(-45 154.00 401.40)">Vehicle</text>
<line x1="56.90" y1="425.20" x2="160.90" y2="425.20" stroke="#231f20" stroke-width="1"/>
<text x="108.60" y="435.60" font-size="8.8" text-anchor="middle" textLength="42.5" lengthAdjust="spacingAndGlyphs">VWF variants</text>
<g transform="translate(14.10,388.65) rotate(-90)"><text x="0" y="0" font-size="9" textLength="56.22" lengthAdjust="spacingAndGlyphs">VWF binding (OD</text><text x="57.44" y="3.2" font-size="7.5" textLength="20.90" lengthAdjust="spacingAndGlyphs">450 nm</text><text x="79.36" y="0" font-size="9" textLength="2.94" lengthAdjust="spacingAndGlyphs">)</text></g>
<rect x="172.90" y="312.50" width="9.30" height="5.20" fill="#cc1136"/>
<text x="185.60" y="317.80" font-size="7.9" textLength="48" lengthAdjust="spacingAndGlyphs">Neg-Microlyse</text>
<rect x="172.90" y="324.20" width="9.30" height="5.20" fill="#154d84"/>
<text x="185.60" y="329.50" font-size="7.9" textLength="41.5" lengthAdjust="spacingAndGlyphs">Microlyse #1</text>
<rect x="172.90" y="336.10" width="9.30" height="5.20" fill="#3db54b"/>
<text x="185.60" y="341.40" font-size="7.9" textLength="41.5" lengthAdjust="spacingAndGlyphs">Microlyse #2</text>
<text x="257.10" y="296.50" font-size="10.3" font-weight="bold" fill="#000" style="stroke:#000;stroke-width:0.45px">G</text>
<line x1="291.30" y1="303.00" x2="291.30" y2="393.00" stroke="#231f20" stroke-width="1.5"/>
<line x1="288.10" y1="392.30" x2="291.30" y2="392.30" stroke="#231f20" stroke-width="0.9"/>
<text x="285.50" y="395.60" font-size="9.3" text-anchor="end" textLength="11.26" lengthAdjust="spacingAndGlyphs" class="tk">0.0</text>
<line x1="288.10" y1="375.25" x2="291.30" y2="375.25" stroke="#231f20" stroke-width="0.9"/>
<text x="285.50" y="378.55" font-size="9.3" text-anchor="end" textLength="11.26" lengthAdjust="spacingAndGlyphs" class="tk">0.2</text>
<line x1="288.10" y1="358.20" x2="291.30" y2="358.20" stroke="#231f20" stroke-width="0.9"/>
<text x="285.50" y="361.50" font-size="9.3" text-anchor="end" textLength="11.26" lengthAdjust="spacingAndGlyphs" class="tk">0.4</text>
<line x1="288.10" y1="341.15" x2="291.30" y2="341.15" stroke="#231f20" stroke-width="0.9"/>
<text x="285.50" y="344.45" font-size="9.3" text-anchor="end" textLength="11.26" lengthAdjust="spacingAndGlyphs" class="tk">0.6</text>
<line x1="288.10" y1="324.10" x2="291.30" y2="324.10" stroke="#231f20" stroke-width="0.9"/>
<text x="285.50" y="327.40" font-size="9.3" text-anchor="end" textLength="11.26" lengthAdjust="spacingAndGlyphs" class="tk">0.8</text>
<line x1="288.10" y1="307.05" x2="291.30" y2="307.05" stroke="#231f20" stroke-width="0.9"/>
<text x="285.50" y="310.35" font-size="9.3" text-anchor="end" textLength="11.26" lengthAdjust="spacingAndGlyphs" class="tk">1.0</text>
<line x1="290.60" y1="392.30" x2="411.50" y2="392.30" stroke="#231f20" stroke-width="1.5"/>
<line x1="322.10" y1="392.30" x2="322.10" y2="395.50" stroke="#231f20" stroke-width="0.9"/>
<line x1="389.70" y1="392.30" x2="389.70" y2="395.50" stroke="#231f20" stroke-width="0.9"/>
<rect x="306.50" y="383.39" width="7.00" height="8.61" fill="#cc1136" stroke="#b8002a" stroke-width="0.6"/>
<line x1="310.00" y1="383.09" x2="310.00" y2="380.09" stroke="#333" stroke-width="0.8"/>
<line x1="307.90" y1="380.09" x2="312.10" y2="380.09" stroke="#333" stroke-width="0.8"/>
<rect x="318.60" y="315.02" width="7.00" height="76.98" fill="#154d84" stroke="#0c3f73" stroke-width="0.6"/>
<line x1="322.10" y1="314.72" x2="322.10" y2="311.22" stroke="#333" stroke-width="0.8"/>
<line x1="320.00" y1="311.22" x2="324.20" y2="311.22" stroke="#333" stroke-width="0.8"/>
<rect x="330.60" y="383.82" width="7.00" height="8.18" fill="#3db54b" stroke="#2aa83c" stroke-width="0.6"/>
<line x1="334.10" y1="383.52" x2="334.10" y2="382.52" stroke="#333" stroke-width="0.8"/>
<line x1="332.00" y1="382.52" x2="336.20" y2="382.52" stroke="#333" stroke-width="0.8"/>
<rect x="373.90" y="385.35" width="7.00" height="6.65" fill="#cc1136" stroke="#b8002a" stroke-width="0.6"/>
<line x1="377.40" y1="385.05" x2="377.40" y2="381.85" stroke="#333" stroke-width="0.8"/>
<line x1="375.30" y1="381.85" x2="379.50" y2="381.85" stroke="#333" stroke-width="0.8"/>
<rect x="386.10" y="384.93" width="7.00" height="7.07" fill="#154d84" stroke="#0c3f73" stroke-width="0.6"/>
<line x1="389.60" y1="384.63" x2="389.60" y2="381.93" stroke="#333" stroke-width="0.8"/>
<line x1="387.50" y1="381.93" x2="391.70" y2="381.93" stroke="#333" stroke-width="0.8"/>
<rect x="398.30" y="382.37" width="7.00" height="9.63" fill="#3db54b" stroke="#2aa83c" stroke-width="0.6"/>
<line x1="401.80" y1="382.07" x2="401.80" y2="381.07" stroke="#333" stroke-width="0.8"/>
<line x1="399.70" y1="381.07" x2="403.90" y2="381.07" stroke="#333" stroke-width="0.8"/>
<text x="321.50" y="405.40" font-size="8.6" text-anchor="middle" textLength="21" lengthAdjust="spacingAndGlyphs">D’D3</text>
<text x="389.50" y="405.40" font-size="8.6" text-anchor="middle" textLength="25.5" lengthAdjust="spacingAndGlyphs">Vehicle</text>
<line x1="307.00" y1="410.40" x2="411.30" y2="410.40" stroke="#231f20" stroke-width="1"/>
<text x="358.80" y="421.00" font-size="8.8" text-anchor="middle" textLength="40" lengthAdjust="spacingAndGlyphs">VWF domain</text>
<g transform="translate(264.10,388.60) rotate(-90)"><text x="0" y="0" font-size="9" textLength="55.74" lengthAdjust="spacingAndGlyphs">VWF binding (OD</text><text x="56.95" y="3.2" font-size="7.5" textLength="20.73" lengthAdjust="spacingAndGlyphs">450 nm</text><text x="78.68" y="0" font-size="9" textLength="2.92" lengthAdjust="spacingAndGlyphs">)</text></g>
<rect x="451.70" y="312.40" width="9.30" height="5.20" fill="#cc1136"/>
<text x="463.80" y="317.70" font-size="7.9" textLength="48" lengthAdjust="spacingAndGlyphs">Neg-Microlyse</text>
<rect x="451.70" y="324.00" width="9.30" height="5.20" fill="#154d84"/>
<text x="463.80" y="329.30" font-size="7.9" textLength="41.5" lengthAdjust="spacingAndGlyphs">Microlyse #1</text>
<rect x="451.70" y="335.90" width="9.30" height="5.20" fill="#3db54b"/>
<text x="463.80" y="341.20" font-size="7.9" textLength="41.5" lengthAdjust="spacingAndGlyphs">Microlyse #2</text>
<text x="7.40" y="447.50" font-size="10.3" font-weight="bold" fill="#000" style="stroke:#000;stroke-width:0.45px" textLength="8.2" lengthAdjust="spacingAndGlyphs">H</text>
<line x1="41.00" y1="451.30" x2="41.00" y2="541.00" stroke="#231f20" stroke-width="1.5"/>
<line x1="37.80" y1="540.30" x2="41.00" y2="540.30" stroke="#231f20" stroke-width="0.9"/>
<text x="35.20" y="543.60" font-size="9.3" text-anchor="end" textLength="4.5" lengthAdjust="spacingAndGlyphs" class="tk">0</text>
<line x1="37.80" y1="524.72" x2="41.00" y2="524.72" stroke="#231f20" stroke-width="0.9"/>
<text x="35.20" y="528.02" font-size="9.3" text-anchor="end" textLength="9.01" lengthAdjust="spacingAndGlyphs" class="tk">20</text>
<line x1="37.80" y1="509.14" x2="41.00" y2="509.14" stroke="#231f20" stroke-width="0.9"/>
<text x="35.20" y="512.44" font-size="9.3" text-anchor="end" textLength="9.01" lengthAdjust="spacingAndGlyphs" class="tk">40</text>
<line x1="37.80" y1="493.56" x2="41.00" y2="493.56" stroke="#231f20" stroke-width="0.9"/>
<text x="35.20" y="496.86" font-size="9.3" text-anchor="end" textLength="9.01" lengthAdjust="spacingAndGlyphs" class="tk">60</text>
<line x1="37.80" y1="477.98" x2="41.00" y2="477.98" stroke="#231f20" stroke-width="0.9"/>
<text x="35.20" y="481.28" font-size="9.3" text-anchor="end" textLength="9.01" lengthAdjust="spacingAndGlyphs" class="tk">80</text>
<line x1="37.80" y1="462.40" x2="41.00" y2="462.40" stroke="#231f20" stroke-width="0.9"/>
<text x="35.20" y="465.70" font-size="9.3" text-anchor="end" textLength="13.51" lengthAdjust="spacingAndGlyphs" class="tk">100</text>
<line x1="39.00" y1="532.51" x2="41.00" y2="532.51" stroke="#231f20" stroke-width="0.8"/>
<line x1="39.00" y1="516.93" x2="41.00" y2="516.93" stroke="#231f20" stroke-width="0.8"/>
<line x1="39.00" y1="501.35" x2="41.00" y2="501.35" stroke="#231f20" stroke-width="0.8"/>
<line x1="39.00" y1="485.77" x2="41.00" y2="485.77" stroke="#231f20" stroke-width="0.8"/>
<line x1="39.00" y1="470.19" x2="41.00" y2="470.19" stroke="#231f20" stroke-width="0.8"/>
<line x1="39.00" y1="454.61" x2="41.00" y2="454.61" stroke="#231f20" stroke-width="0.8"/>
<line x1="40.30" y1="540.30" x2="175.40" y2="540.30" stroke="#231f20" stroke-width="1.5"/>
<line x1="41.20" y1="540.30" x2="41.20" y2="543.50" stroke="#231f20" stroke-width="0.9"/>
<text x="41.20" y="552.30" font-size="9.3" text-anchor="middle" textLength="4.5" lengthAdjust="spacingAndGlyphs" class="tk">0</text>
<line x1="67.30" y1="540.30" x2="67.30" y2="543.50" stroke="#231f20" stroke-width="0.9"/>
<text x="67.30" y="552.30" font-size="9.3" text-anchor="middle" textLength="13.51" lengthAdjust="spacingAndGlyphs" class="tk">200</text>
<line x1="93.40" y1="540.30" x2="93.40" y2="543.50" stroke="#231f20" stroke-width="0.9"/>
<text x="93.40" y="552.30" font-size="9.3" text-anchor="middle" textLength="13.51" lengthAdjust="spacingAndGlyphs" class="tk">400</text>
<line x1="119.50" y1="540.30" x2="119.50" y2="543.50" stroke="#231f20" stroke-width="0.9"/>
<text x="119.50" y="552.30" font-size="9.3" text-anchor="middle" textLength="13.51" lengthAdjust="spacingAndGlyphs" class="tk">600</text>
<line x1="145.60" y1="540.30" x2="145.60" y2="543.50" stroke="#231f20" stroke-width="0.9"/>
<text x="145.60" y="552.30" font-size="9.3" text-anchor="middle" textLength="13.51" lengthAdjust="spacingAndGlyphs" class="tk">800</text>
<line x1="171.70" y1="540.30" x2="171.70" y2="543.50" stroke="#231f20" stroke-width="0.9"/>
<text x="171.70" y="552.30" font-size="9.3" text-anchor="middle" textLength="18.02" lengthAdjust="spacingAndGlyphs" class="tk">1000</text>
<line x1="41.80" y1="461.90" x2="171.00" y2="461.90" stroke="#1a1a1a" stroke-width="1.0" stroke-dasharray="3.6,2.4"/>
<text x="110.00" y="567.00" font-size="8.8" text-anchor="middle" textLength="47.5" lengthAdjust="spacingAndGlyphs">Construct (nM)</text>
<text transform="translate(15.20,495.10) rotate(-90)" x="0" y="0" text-anchor="middle" font-size="9" textLength="75.3" lengthAdjust="spacingAndGlyphs">VWF-FVIII complex (%)</text>
<line x1="145.60" y1="458.40" x2="145.60" y2="463.00" stroke="#4a4a4a" stroke-width="0.8"/>
<line x1="144.00" y1="458.40" x2="147.20" y2="458.40" stroke="#4a4a4a" stroke-width="0.8"/>
<line x1="144.00" y1="463.00" x2="147.20" y2="463.00" stroke="#4a4a4a" stroke-width="0.8"/>
<line x1="145.60" y1="465.50" x2="145.60" y2="470.00" stroke="#4a4a4a" stroke-width="0.8"/>
<line x1="144.00" y1="465.50" x2="147.20" y2="465.50" stroke="#4a4a4a" stroke-width="0.8"/>
<line x1="144.00" y1="470.00" x2="147.20" y2="470.00" stroke="#4a4a4a" stroke-width="0.8"/>
<line x1="67.30" y1="459.50" x2="67.30" y2="468.50" stroke="#4a4a4a" stroke-width="0.8"/>
<line x1="65.70" y1="459.50" x2="68.90" y2="459.50" stroke="#4a4a4a" stroke-width="0.8"/>
<line x1="65.70" y1="468.50" x2="68.90" y2="468.50" stroke="#4a4a4a" stroke-width="0.8"/>
<line x1="67.30" y1="465.30" x2="145.60" y2="540.10" stroke="#154d84" stroke-width="1.3"/>
<line x1="67.30" y1="466.90" x2="145.60" y2="467.40" stroke="#3db54b" stroke-width="1.3"/>
<line x1="67.30" y1="461.20" x2="145.60" y2="460.70" stroke="#cc1136" stroke-width="1.3"/>
<path d="M67.30,462.70 L69.77,467.25 L64.83,467.25Z" fill="#154d84"/>
<path d="M145.60,536.40 L148.07,540.95 L143.13,540.95Z" fill="#154d84"/>
<path d="M67.30,464.30 L69.77,468.85 L64.83,468.85Z" fill="#3db54b"/>
<path d="M145.60,464.80 L148.07,469.35 L143.13,469.35Z" fill="#3db54b"/>
<path d="M67.30,463.80 L69.77,459.25 L64.83,459.25Z" fill="#cc1136"/>
<path d="M145.60,463.30 L148.07,458.75 L143.13,458.75Z" fill="#cc1136"/>
<line x1="168.10" y1="475.40" x2="177.30" y2="475.40" stroke="#cc1136" stroke-width="1.3"/>
<path d="M172.70,478.00 L175.17,473.45 L170.23,473.45Z" fill="#cc1136"/>
<text x="179.80" y="478.10" font-size="7.9" textLength="48" lengthAdjust="spacingAndGlyphs">Neg-Microlyse</text>
<line x1="168.10" y1="485.60" x2="177.30" y2="485.60" stroke="#154d84" stroke-width="1.3"/>
<path d="M172.70,483.00 L175.17,487.55 L170.23,487.55Z" fill="#154d84"/>
<text x="179.80" y="488.30" font-size="7.9" textLength="41.5" lengthAdjust="spacingAndGlyphs">Microlyse #1</text>
<line x1="168.10" y1="495.60" x2="177.30" y2="495.60" stroke="#3db54b" stroke-width="1.3"/>
<path d="M172.70,493.00 L175.17,497.55 L170.23,497.55Z" fill="#3db54b"/>
<text x="179.80" y="498.30" font-size="7.9" textLength="41.5" lengthAdjust="spacingAndGlyphs">Microlyse #2</text>
<text x="257.20" y="448.10" font-size="10.3" font-weight="bold" fill="#000" style="stroke:#000;stroke-width:0.45px">I</text>
<line x1="291.00" y1="450.60" x2="291.00" y2="541.00" stroke="#231f20" stroke-width="1.5"/>
<line x1="287.80" y1="540.30" x2="291.00" y2="540.30" stroke="#231f20" stroke-width="0.9"/>
<text x="285.20" y="543.60" font-size="9.3" text-anchor="end" textLength="11.26" lengthAdjust="spacingAndGlyphs" class="tk">0.0</text>
<line x1="287.80" y1="523.05" x2="291.00" y2="523.05" stroke="#231f20" stroke-width="0.9"/>
<text x="285.20" y="526.35" font-size="9.3" text-anchor="end" textLength="11.26" lengthAdjust="spacingAndGlyphs" class="tk">0.5</text>
<line x1="287.80" y1="505.80" x2="291.00" y2="505.80" stroke="#231f20" stroke-width="0.9"/>
<text x="285.20" y="509.10" font-size="9.3" text-anchor="end" textLength="11.26" lengthAdjust="spacingAndGlyphs" class="tk">1.0</text>
<line x1="287.80" y1="488.55" x2="291.00" y2="488.55" stroke="#231f20" stroke-width="0.9"/>
<text x="285.20" y="491.85" font-size="9.3" text-anchor="end" textLength="11.26" lengthAdjust="spacingAndGlyphs" class="tk">1.5</text>
<line x1="287.80" y1="471.30" x2="291.00" y2="471.30" stroke="#231f20" stroke-width="0.9"/>
<text x="285.20" y="474.60" font-size="9.3" text-anchor="end" textLength="11.26" lengthAdjust="spacingAndGlyphs" class="tk">2.0</text>
<line x1="287.80" y1="454.05" x2="291.00" y2="454.05" stroke="#231f20" stroke-width="0.9"/>
<text x="285.20" y="457.35" font-size="9.3" text-anchor="end" textLength="11.26" lengthAdjust="spacingAndGlyphs" class="tk">2.5</text>
<line x1="290.30" y1="540.30" x2="473.80" y2="540.30" stroke="#231f20" stroke-width="1.5"/>
<line x1="303.60" y1="540.30" x2="303.60" y2="543.50" stroke="#231f20" stroke-width="0.9"/>
<line x1="323.05" y1="540.30" x2="323.05" y2="543.50" stroke="#231f20" stroke-width="0.9"/>
<line x1="342.50" y1="540.30" x2="342.50" y2="543.50" stroke="#231f20" stroke-width="0.9"/>
<line x1="361.95" y1="540.30" x2="361.95" y2="543.50" stroke="#231f20" stroke-width="0.9"/>
<line x1="381.40" y1="540.30" x2="381.40" y2="543.50" stroke="#231f20" stroke-width="0.9"/>
<line x1="400.85" y1="540.30" x2="400.85" y2="543.50" stroke="#231f20" stroke-width="0.9"/>
<line x1="420.30" y1="540.30" x2="420.30" y2="543.50" stroke="#231f20" stroke-width="0.9"/>
<line x1="439.75" y1="540.30" x2="439.75" y2="543.50" stroke="#231f20" stroke-width="0.9"/>
<line x1="459.20" y1="540.30" x2="459.20" y2="543.50" stroke="#231f20" stroke-width="0.9"/>
<rect x="298.40" y="537.05" width="2.80" height="3.05" fill="#cc1136" stroke="#b8002a" stroke-width="0.4"/>
<line x1="299.80" y1="536.85" x2="299.80" y2="536.35" stroke="#333" stroke-width="0.8"/>
<line x1="298.80" y1="536.35" x2="300.80" y2="536.35" stroke="#333" stroke-width="0.8"/>
<rect x="302.20" y="470.81" width="2.80" height="69.29" fill="#154d84" stroke="#0c3f73" stroke-width="0.4"/>
<line x1="303.60" y1="470.61" x2="303.60" y2="468.21" stroke="#333" stroke-width="0.8"/>
<line x1="302.60" y1="468.21" x2="304.60" y2="468.21" stroke="#333" stroke-width="0.8"/>
<rect x="306.00" y="469.77" width="2.80" height="70.32" fill="#3db54b" stroke="#2aa83c" stroke-width="0.4"/>
<line x1="307.40" y1="469.57" x2="307.40" y2="465.97" stroke="#333" stroke-width="0.8"/>
<line x1="306.40" y1="465.97" x2="308.40" y2="465.97" stroke="#333" stroke-width="0.8"/>
<rect x="317.85" y="537.05" width="2.80" height="3.05" fill="#cc1136" stroke="#b8002a" stroke-width="0.4"/>
<line x1="319.25" y1="536.85" x2="319.25" y2="536.35" stroke="#333" stroke-width="0.8"/>
<line x1="318.25" y1="536.35" x2="320.25" y2="536.35" stroke="#333" stroke-width="0.8"/>
<rect x="321.65" y="476.67" width="2.80" height="63.43" fill="#154d84" stroke="#0c3f73" stroke-width="0.4"/>
<line x1="323.05" y1="476.47" x2="323.05" y2="474.07" stroke="#333" stroke-width="0.8"/>
<line x1="322.05" y1="474.07" x2="324.05" y2="474.07" stroke="#333" stroke-width="0.8"/>
<rect x="325.45" y="537.05" width="2.80" height="3.05" fill="#3db54b" stroke="#2aa83c" stroke-width="0.4"/>
<line x1="326.85" y1="536.85" x2="326.85" y2="536.35" stroke="#333" stroke-width="0.8"/>
<line x1="325.85" y1="536.35" x2="327.85" y2="536.35" stroke="#333" stroke-width="0.8"/>
<rect x="337.30" y="537.05" width="2.80" height="3.05" fill="#cc1136" stroke="#b8002a" stroke-width="0.4"/>
<line x1="338.70" y1="536.85" x2="338.70" y2="536.35" stroke="#333" stroke-width="0.8"/>
<line x1="337.70" y1="536.35" x2="339.70" y2="536.35" stroke="#333" stroke-width="0.8"/>
<rect x="341.10" y="476.67" width="2.80" height="63.43" fill="#154d84" stroke="#0c3f73" stroke-width="0.4"/>
<line x1="342.50" y1="476.47" x2="342.50" y2="474.07" stroke="#333" stroke-width="0.8"/>
<line x1="341.50" y1="474.07" x2="343.50" y2="474.07" stroke="#333" stroke-width="0.8"/>
<rect x="344.90" y="537.05" width="2.80" height="3.05" fill="#3db54b" stroke="#2aa83c" stroke-width="0.4"/>
<line x1="346.30" y1="536.85" x2="346.30" y2="536.35" stroke="#333" stroke-width="0.8"/>
<line x1="345.30" y1="536.35" x2="347.30" y2="536.35" stroke="#333" stroke-width="0.8"/>
<rect x="356.75" y="537.05" width="2.80" height="3.05" fill="#cc1136" stroke="#b8002a" stroke-width="0.4"/>
<line x1="358.15" y1="536.85" x2="358.15" y2="536.35" stroke="#333" stroke-width="0.8"/>
<line x1="357.15" y1="536.35" x2="359.15" y2="536.35" stroke="#333" stroke-width="0.8"/>
<rect x="360.55" y="476.67" width="2.80" height="63.43" fill="#154d84" stroke="#0c3f73" stroke-width="0.4"/>
<line x1="361.95" y1="476.47" x2="361.95" y2="474.07" stroke="#333" stroke-width="0.8"/>
<line x1="360.95" y1="474.07" x2="362.95" y2="474.07" stroke="#333" stroke-width="0.8"/>
<rect x="364.35" y="537.05" width="2.80" height="3.05" fill="#3db54b" stroke="#2aa83c" stroke-width="0.4"/>
<line x1="365.75" y1="536.85" x2="365.75" y2="536.35" stroke="#333" stroke-width="0.8"/>
<line x1="364.75" y1="536.35" x2="366.75" y2="536.35" stroke="#333" stroke-width="0.8"/>
<rect x="376.20" y="537.05" width="2.80" height="3.05" fill="#cc1136" stroke="#b8002a" stroke-width="0.4"/>
<line x1="377.60" y1="536.85" x2="377.60" y2="536.35" stroke="#333" stroke-width="0.8"/>
<line x1="376.60" y1="536.35" x2="378.60" y2="536.35" stroke="#333" stroke-width="0.8"/>
<rect x="380.00" y="478.05" width="2.80" height="62.05" fill="#154d84" stroke="#0c3f73" stroke-width="0.4"/>
<line x1="381.40" y1="477.85" x2="381.40" y2="475.45" stroke="#333" stroke-width="0.8"/>
<line x1="380.40" y1="475.45" x2="382.40" y2="475.45" stroke="#333" stroke-width="0.8"/>
<rect x="383.80" y="537.05" width="2.80" height="3.05" fill="#3db54b" stroke="#2aa83c" stroke-width="0.4"/>
<line x1="385.20" y1="536.85" x2="385.20" y2="536.35" stroke="#333" stroke-width="0.8"/>
<line x1="384.20" y1="536.35" x2="386.20" y2="536.35" stroke="#333" stroke-width="0.8"/>
<rect x="395.65" y="537.05" width="2.80" height="3.05" fill="#cc1136" stroke="#b8002a" stroke-width="0.4"/>
<line x1="397.05" y1="536.85" x2="397.05" y2="536.35" stroke="#333" stroke-width="0.8"/>
<line x1="396.05" y1="536.35" x2="398.05" y2="536.35" stroke="#333" stroke-width="0.8"/>
<rect x="399.45" y="477.36" width="2.80" height="62.74" fill="#154d84" stroke="#0c3f73" stroke-width="0.4"/>
<line x1="400.85" y1="477.16" x2="400.85" y2="474.76" stroke="#333" stroke-width="0.8"/>
<line x1="399.85" y1="474.76" x2="401.85" y2="474.76" stroke="#333" stroke-width="0.8"/>
<rect x="403.25" y="537.05" width="2.80" height="3.05" fill="#3db54b" stroke="#2aa83c" stroke-width="0.4"/>
<line x1="404.65" y1="536.85" x2="404.65" y2="536.35" stroke="#333" stroke-width="0.8"/>
<line x1="403.65" y1="536.35" x2="405.65" y2="536.35" stroke="#333" stroke-width="0.8"/>
<rect x="415.10" y="537.05" width="2.80" height="3.05" fill="#cc1136" stroke="#b8002a" stroke-width="0.4"/>
<line x1="416.50" y1="536.85" x2="416.50" y2="536.35" stroke="#333" stroke-width="0.8"/>
<line x1="415.50" y1="536.35" x2="417.50" y2="536.35" stroke="#333" stroke-width="0.8"/>
<rect x="418.90" y="477.36" width="2.80" height="62.74" fill="#154d84" stroke="#0c3f73" stroke-width="0.4"/>
<line x1="420.30" y1="477.16" x2="420.30" y2="474.76" stroke="#333" stroke-width="0.8"/>
<line x1="419.30" y1="474.76" x2="421.30" y2="474.76" stroke="#333" stroke-width="0.8"/>
<rect x="422.70" y="537.05" width="2.80" height="3.05" fill="#3db54b" stroke="#2aa83c" stroke-width="0.4"/>
<line x1="424.10" y1="536.85" x2="424.10" y2="536.35" stroke="#333" stroke-width="0.8"/>
<line x1="423.10" y1="536.35" x2="425.10" y2="536.35" stroke="#333" stroke-width="0.8"/>
<rect x="434.55" y="537.05" width="2.80" height="3.05" fill="#cc1136" stroke="#b8002a" stroke-width="0.4"/>
<line x1="435.95" y1="536.85" x2="435.95" y2="536.35" stroke="#333" stroke-width="0.8"/>
<line x1="434.95" y1="536.35" x2="436.95" y2="536.35" stroke="#333" stroke-width="0.8"/>
<rect x="438.35" y="476.67" width="2.80" height="63.43" fill="#154d84" stroke="#0c3f73" stroke-width="0.4"/>
<line x1="439.75" y1="476.47" x2="439.75" y2="474.07" stroke="#333" stroke-width="0.8"/>
<line x1="438.75" y1="474.07" x2="440.75" y2="474.07" stroke="#333" stroke-width="0.8"/>
<rect x="442.15" y="537.05" width="2.80" height="3.05" fill="#3db54b" stroke="#2aa83c" stroke-width="0.4"/>
<line x1="443.55" y1="536.85" x2="443.55" y2="536.35" stroke="#333" stroke-width="0.8"/>
<line x1="442.55" y1="536.35" x2="444.55" y2="536.35" stroke="#333" stroke-width="0.8"/>
<rect x="454.00" y="537.05" width="2.80" height="3.05" fill="#cc1136" stroke="#b8002a" stroke-width="0.4"/>
<line x1="455.40" y1="536.85" x2="455.40" y2="536.35" stroke="#333" stroke-width="0.8"/>
<line x1="454.40" y1="536.35" x2="456.40" y2="536.35" stroke="#333" stroke-width="0.8"/>
<rect x="457.80" y="537.05" width="2.80" height="3.05" fill="#154d84" stroke="#0c3f73" stroke-width="0.4"/>
<line x1="459.20" y1="536.85" x2="459.20" y2="536.35" stroke="#333" stroke-width="0.8"/>
<line x1="458.20" y1="536.35" x2="460.20" y2="536.35" stroke="#333" stroke-width="0.8"/>
<rect x="461.60" y="537.05" width="2.80" height="3.05" fill="#3db54b" stroke="#2aa83c" stroke-width="0.4"/>
<line x1="463.00" y1="536.85" x2="463.00" y2="536.35" stroke="#333" stroke-width="0.8"/>
<line x1="462.00" y1="536.35" x2="464.00" y2="536.35" stroke="#333" stroke-width="0.8"/>
<text x="309.00" y="550.20" font-size="7.5" text-anchor="end" textLength="38" lengthAdjust="spacingAndGlyphs" transform="rotate(-45 309.00 550.20)">Full-length</text>
<text x="328.45" y="550.20" font-size="7.5" text-anchor="end" textLength="24.5" lengthAdjust="spacingAndGlyphs" transform="rotate(-45 328.45 550.20)">&#916;CTCK</text>
<text x="347.90" y="550.20" font-size="7.5" text-anchor="end" textLength="38.5" lengthAdjust="spacingAndGlyphs" transform="rotate(-45 347.90 550.20)">&#916;C6-CTCK</text>
<text x="367.35" y="550.20" font-size="7.5" text-anchor="end" textLength="38.5" lengthAdjust="spacingAndGlyphs" transform="rotate(-45 367.35 550.20)">&#916;C5-CTCK</text>
<text x="386.80" y="550.20" font-size="7.5" text-anchor="end" textLength="38.5" lengthAdjust="spacingAndGlyphs" transform="rotate(-45 386.80 550.20)">&#916;C4-CTCK</text>
<text x="406.25" y="550.20" font-size="7.5" text-anchor="end" textLength="38.5" lengthAdjust="spacingAndGlyphs" transform="rotate(-45 406.25 550.20)">&#916;C3-CTCK</text>
<text x="425.70" y="550.20" font-size="7.5" text-anchor="end" textLength="38.5" lengthAdjust="spacingAndGlyphs" transform="rotate(-45 425.70 550.20)">&#916;C2-CTCK</text>
<text x="445.15" y="550.20" font-size="7.5" text-anchor="end" textLength="38.5" lengthAdjust="spacingAndGlyphs" transform="rotate(-45 445.15 550.20)">&#916;C1-CTCK</text>
<text x="464.60" y="550.20" font-size="7.5" text-anchor="end" textLength="20.8" lengthAdjust="spacingAndGlyphs" transform="rotate(-45 464.60 550.20)">Mock</text>
<line x1="306.30" y1="581.80" x2="469.50" y2="581.80" stroke="#231f20" stroke-width="1"/>
<text x="383.00" y="591.50" font-size="8.8" text-anchor="middle" textLength="78" lengthAdjust="spacingAndGlyphs">VWF truncation variants</text>
<g transform="translate(264.60,536.40) rotate(-90)"><text x="0" y="0" font-size="9" textLength="55.74" lengthAdjust="spacingAndGlyphs">VWF binding (OD</text><text x="56.95" y="3.2" font-size="7.5" textLength="20.73" lengthAdjust="spacingAndGlyphs">450 nm</text><text x="78.68" y="0" font-size="9" textLength="2.92" lengthAdjust="spacingAndGlyphs">)</text></g>
<rect x="451.50" y="454.80" width="9.50" height="5.20" fill="#cc1136"/>
<text x="463.40" y="460.10" font-size="7.9" textLength="48" lengthAdjust="spacingAndGlyphs">Neg-Microlyse</text>
<rect x="451.50" y="466.30" width="9.50" height="5.20" fill="#154d84"/>
<text x="463.40" y="471.60" font-size="7.9" textLength="41.5" lengthAdjust="spacingAndGlyphs">Microlyse #1</text>
<rect x="451.50" y="478.00" width="9.50" height="5.20" fill="#3db54b"/>
<text x="463.40" y="483.30" font-size="7.9" textLength="41.5" lengthAdjust="spacingAndGlyphs">Microlyse #2</text>
<text x="7.60" y="577.50" font-size="10.3" font-weight="bold" fill="#000" style="stroke:#000;stroke-width:0.45px">J</text>
<line x1="41.00" y1="584.00" x2="41.00" y2="674.00" stroke="#231f20" stroke-width="1.5"/>
<line x1="37.80" y1="673.30" x2="41.00" y2="673.30" stroke="#231f20" stroke-width="0.9"/>
<text x="35.20" y="676.60" font-size="9.3" text-anchor="end" textLength="11.26" lengthAdjust="spacingAndGlyphs" class="tk">0.0</text>
<line x1="37.80" y1="656.32" x2="41.00" y2="656.32" stroke="#231f20" stroke-width="0.9"/>
<text x="35.20" y="659.62" font-size="9.3" text-anchor="end" textLength="11.26" lengthAdjust="spacingAndGlyphs" class="tk">0.2</text>
<line x1="37.80" y1="639.34" x2="41.00" y2="639.34" stroke="#231f20" stroke-width="0.9"/>
<text x="35.20" y="642.64" font-size="9.3" text-anchor="end" textLength="11.26" lengthAdjust="spacingAndGlyphs" class="tk">0.4</text>
<line x1="37.80" y1="622.36" x2="41.00" y2="622.36" stroke="#231f20" stroke-width="0.9"/>
<text x="35.20" y="625.66" font-size="9.3" text-anchor="end" textLength="11.26" lengthAdjust="spacingAndGlyphs" class="tk">0.6</text>
<line x1="37.80" y1="605.38" x2="41.00" y2="605.38" stroke="#231f20" stroke-width="0.9"/>
<text x="35.20" y="608.68" font-size="9.3" text-anchor="end" textLength="11.26" lengthAdjust="spacingAndGlyphs" class="tk">0.8</text>
<line x1="37.80" y1="588.40" x2="41.00" y2="588.40" stroke="#231f20" stroke-width="0.9"/>
<text x="35.20" y="591.70" font-size="9.3" text-anchor="end" textLength="11.26" lengthAdjust="spacingAndGlyphs" class="tk">1.0</text>
<line x1="40.30" y1="673.30" x2="162.50" y2="673.30" stroke="#231f20" stroke-width="1.5"/>
<line x1="71.50" y1="673.30" x2="71.50" y2="676.50" stroke="#231f20" stroke-width="0.9"/>
<line x1="139.20" y1="673.30" x2="139.20" y2="676.50" stroke="#231f20" stroke-width="0.9"/>
<rect x="56.10" y="665.28" width="6.90" height="7.72" fill="#cc1136" stroke="#b8002a" stroke-width="0.6"/>
<line x1="59.55" y1="664.98" x2="59.55" y2="664.18" stroke="#333" stroke-width="0.8"/>
<line x1="57.45" y1="664.18" x2="61.65" y2="664.18" stroke="#333" stroke-width="0.8"/>
<rect x="68.10" y="665.28" width="6.90" height="7.72" fill="#154d84" stroke="#0c3f73" stroke-width="0.6"/>
<line x1="71.55" y1="664.98" x2="71.55" y2="664.18" stroke="#333" stroke-width="0.8"/>
<line x1="69.45" y1="664.18" x2="73.65" y2="664.18" stroke="#333" stroke-width="0.8"/>
<rect x="80.20" y="606.95" width="6.90" height="66.05" fill="#3db54b" stroke="#2aa83c" stroke-width="0.6"/>
<line x1="83.65" y1="606.65" x2="83.65" y2="604.65" stroke="#333" stroke-width="0.8"/>
<line x1="81.55" y1="604.65" x2="85.75" y2="604.65" stroke="#333" stroke-width="0.8"/>
<rect x="123.50" y="664.09" width="6.90" height="8.91" fill="#cc1136" stroke="#b8002a" stroke-width="0.6"/>
<line x1="126.95" y1="663.79" x2="126.95" y2="662.99" stroke="#333" stroke-width="0.8"/>
<line x1="124.85" y1="662.99" x2="129.05" y2="662.99" stroke="#333" stroke-width="0.8"/>
<rect x="135.70" y="664.60" width="6.90" height="8.40" fill="#154d84" stroke="#0c3f73" stroke-width="0.6"/>
<line x1="139.15" y1="664.30" x2="139.15" y2="663.50" stroke="#333" stroke-width="0.8"/>
<line x1="137.05" y1="663.50" x2="141.25" y2="663.50" stroke="#333" stroke-width="0.8"/>
<rect x="147.80" y="664.09" width="6.90" height="8.91" fill="#3db54b" stroke="#2aa83c" stroke-width="0.6"/>
<line x1="151.25" y1="663.79" x2="151.25" y2="662.99" stroke="#333" stroke-width="0.8"/>
<line x1="149.15" y1="662.99" x2="153.35" y2="662.99" stroke="#333" stroke-width="0.8"/>
<text x="71.30" y="686.00" font-size="8.6" text-anchor="middle" textLength="20.5" lengthAdjust="spacingAndGlyphs">CTCK</text>
<text x="139.30" y="686.00" font-size="8.6" text-anchor="middle" textLength="20" lengthAdjust="spacingAndGlyphs">Mock</text>
<line x1="57.00" y1="690.00" x2="160.80" y2="690.00" stroke="#231f20" stroke-width="1"/>
<text x="108.80" y="701.40" font-size="8.8" text-anchor="middle" textLength="40" lengthAdjust="spacingAndGlyphs">VWF domain</text>
<g transform="translate(14.10,669.35) rotate(-90)"><text x="0" y="0" font-size="9" textLength="55.26" lengthAdjust="spacingAndGlyphs">VWF binding (OD</text><text x="56.46" y="3.2" font-size="7.5" textLength="20.55" lengthAdjust="spacingAndGlyphs">450 nm</text><text x="78.01" y="0" font-size="9" textLength="2.89" lengthAdjust="spacingAndGlyphs">)</text></g>
<rect x="172.90" y="593.20" width="9.60" height="5.20" fill="#cc1136"/>
<text x="185.60" y="598.50" font-size="7.9" textLength="48" lengthAdjust="spacingAndGlyphs">Neg-Microlyse</text>
<rect x="172.90" y="605.30" width="9.60" height="5.20" fill="#154d84"/>
<text x="185.60" y="610.60" font-size="7.9" textLength="41.5" lengthAdjust="spacingAndGlyphs">Microlyse #1</text>
<rect x="172.90" y="616.80" width="9.60" height="5.20" fill="#3db54b"/>
<text x="185.60" y="622.10" font-size="7.9" textLength="41.5" lengthAdjust="spacingAndGlyphs">Microlyse #2</text>
</svg>
</body></html>
